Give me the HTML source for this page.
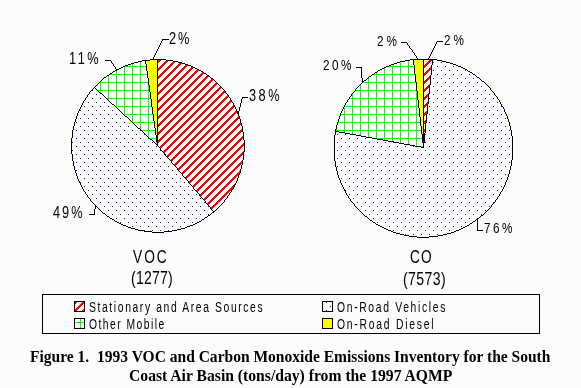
<!DOCTYPE html>
<html><head><meta charset="utf-8"><style>
html,body{margin:0;padding:0;background:#fcfcfc;width:581px;height:388px;overflow:hidden}
svg{display:block}
text{font-family:"Liberation Sans",sans-serif;fill:#000}
text.serif{font-family:"Liberation Serif",serif;font-weight:bold;white-space:pre}
</style></head><body>
<svg width="581" height="388" viewBox="0 0 581 388">
<defs><pattern id="sI" patternUnits="userSpaceOnUse" x="0" y="0" width="8" height="8"><rect width="8" height="8" fill="#fcfcfc"/><g fill="#ff0000"><rect x="0" y="0" width="1" height="1"/><rect x="1" y="0" width="1" height="1"/><rect x="2" y="0" width="1" height="1"/><rect x="0" y="1" width="1" height="1"/><rect x="1" y="1" width="1" height="1"/><rect x="7" y="1" width="1" height="1"/><rect x="0" y="2" width="1" height="1"/><rect x="6" y="2" width="1" height="1"/><rect x="7" y="2" width="1" height="1"/><rect x="5" y="3" width="1" height="1"/><rect x="6" y="3" width="1" height="1"/><rect x="7" y="3" width="1" height="1"/><rect x="4" y="4" width="1" height="1"/><rect x="5" y="4" width="1" height="1"/><rect x="6" y="4" width="1" height="1"/><rect x="3" y="5" width="1" height="1"/><rect x="4" y="5" width="1" height="1"/><rect x="5" y="5" width="1" height="1"/><rect x="2" y="6" width="1" height="1"/><rect x="3" y="6" width="1" height="1"/><rect x="4" y="6" width="1" height="1"/><rect x="1" y="7" width="1" height="1"/><rect x="2" y="7" width="1" height="1"/><rect x="3" y="7" width="1" height="1"/></g></pattern><pattern id="gI" patternUnits="userSpaceOnUse" x="0" y="0" width="8" height="8"><rect width="8" height="8" fill="#fcfcfc"/><g fill="#00ff00"><rect x="0" y="0" width="1" height="8"/><rect x="0" y="2" width="8" height="1"/></g></pattern><pattern id="dI" patternUnits="userSpaceOnUse" x="0" y="0" width="8" height="8"><rect width="8" height="8" fill="#fcfcfc"/><g fill="#0000ff"><rect x="6" y="6" width="1" height="1"/><rect x="2" y="2" width="1" height="1"/></g></pattern></defs>
<rect width="581" height="388" fill="#fcfcfc"/>
<g shape-rendering="crispEdges"><path fill="#ff0000" d="M158 60h3v1h-3zM429 60h3v1h-3zM158 61h2v1h-2zM165 61h3v1h-3zM428 61h3v1h-3zM158 62h1v1h-1zM164 62h3v1h-3zM172 62h3v1h-3zM427 62h3v1h-3zM163 63h3v1h-3zM171 63h3v1h-3zM179 63h3v1h-3zM426 63h3v1h-3zM162 64h3v1h-3zM170 64h3v1h-3zM178 64h3v1h-3zM425 64h3v1h-3zM161 65h3v1h-3zM169 65h3v1h-3zM177 65h3v1h-3zM185 65h3v1h-3zM424 65h3v1h-3zM160 66h3v1h-3zM168 66h3v1h-3zM176 66h3v1h-3zM184 66h3v1h-3zM424 66h2v1h-2zM159 67h3v1h-3zM167 67h3v1h-3zM175 67h3v1h-3zM183 67h3v1h-3zM191 67h2v1h-2zM424 67h1v1h-1zM430 67h1v1h-1zM158 68h3v1h-3zM166 68h3v1h-3zM174 68h3v1h-3zM182 68h3v1h-3zM190 68h3v1h-3zM429 68h2v1h-2zM158 69h2v1h-2zM165 69h3v1h-3zM173 69h3v1h-3zM181 69h3v1h-3zM189 69h3v1h-3zM428 69h3v1h-3zM158 70h1v1h-1zM164 70h3v1h-3zM172 70h3v1h-3zM180 70h3v1h-3zM188 70h3v1h-3zM196 70h3v1h-3zM427 70h3v1h-3zM163 71h3v1h-3zM171 71h3v1h-3zM179 71h3v1h-3zM187 71h3v1h-3zM195 71h3v1h-3zM426 71h3v1h-3zM162 72h3v1h-3zM170 72h3v1h-3zM178 72h3v1h-3zM186 72h3v1h-3zM194 72h3v1h-3zM202 72h1v1h-1zM425 72h3v1h-3zM161 73h3v1h-3zM169 73h3v1h-3zM177 73h3v1h-3zM185 73h3v1h-3zM193 73h3v1h-3zM201 73h3v1h-3zM424 73h3v1h-3zM160 74h3v1h-3zM168 74h3v1h-3zM176 74h3v1h-3zM184 74h3v1h-3zM192 74h3v1h-3zM200 74h3v1h-3zM424 74h2v1h-2zM159 75h3v1h-3zM167 75h3v1h-3zM175 75h3v1h-3zM183 75h3v1h-3zM191 75h3v1h-3zM199 75h3v1h-3zM424 75h1v1h-1zM158 76h3v1h-3zM166 76h3v1h-3zM174 76h3v1h-3zM182 76h3v1h-3zM190 76h3v1h-3zM198 76h3v1h-3zM206 76h3v1h-3zM429 76h1v1h-1zM158 77h2v1h-2zM165 77h3v1h-3zM173 77h3v1h-3zM181 77h3v1h-3zM189 77h3v1h-3zM197 77h3v1h-3zM205 77h3v1h-3zM428 77h2v1h-2zM158 78h1v1h-1zM164 78h3v1h-3zM172 78h3v1h-3zM180 78h3v1h-3zM188 78h3v1h-3zM196 78h3v1h-3zM204 78h3v1h-3zM427 78h3v1h-3zM163 79h3v1h-3zM171 79h3v1h-3zM179 79h3v1h-3zM187 79h3v1h-3zM195 79h3v1h-3zM203 79h3v1h-3zM211 79h2v1h-2zM426 79h3v1h-3zM162 80h3v1h-3zM170 80h3v1h-3zM178 80h3v1h-3zM186 80h3v1h-3zM194 80h3v1h-3zM202 80h3v1h-3zM210 80h3v1h-3zM425 80h3v1h-3zM161 81h3v1h-3zM169 81h3v1h-3zM177 81h3v1h-3zM185 81h3v1h-3zM193 81h3v1h-3zM201 81h3v1h-3zM209 81h3v1h-3zM424 81h3v1h-3zM160 82h3v1h-3zM168 82h3v1h-3zM176 82h3v1h-3zM184 82h3v1h-3zM192 82h3v1h-3zM200 82h3v1h-3zM208 82h3v1h-3zM424 82h2v1h-2zM159 83h3v1h-3zM167 83h3v1h-3zM175 83h3v1h-3zM183 83h3v1h-3zM191 83h3v1h-3zM199 83h3v1h-3zM207 83h3v1h-3zM215 83h2v1h-2zM424 83h1v1h-1zM158 84h3v1h-3zM166 84h3v1h-3zM174 84h3v1h-3zM182 84h3v1h-3zM190 84h3v1h-3zM198 84h3v1h-3zM206 84h3v1h-3zM214 84h3v1h-3zM429 84h1v1h-1zM158 85h2v1h-2zM165 85h3v1h-3zM173 85h3v1h-3zM181 85h3v1h-3zM189 85h3v1h-3zM197 85h3v1h-3zM205 85h3v1h-3zM213 85h3v1h-3zM428 85h1v1h-1zM158 86h1v1h-1zM164 86h3v1h-3zM172 86h3v1h-3zM180 86h3v1h-3zM188 86h3v1h-3zM196 86h3v1h-3zM204 86h3v1h-3zM212 86h3v1h-3zM427 86h2v1h-2zM163 87h3v1h-3zM171 87h3v1h-3zM179 87h3v1h-3zM187 87h3v1h-3zM195 87h3v1h-3zM203 87h3v1h-3zM211 87h3v1h-3zM219 87h2v1h-2zM426 87h3v1h-3zM162 88h3v1h-3zM170 88h3v1h-3zM178 88h3v1h-3zM186 88h3v1h-3zM194 88h3v1h-3zM202 88h3v1h-3zM210 88h3v1h-3zM218 88h3v1h-3zM425 88h3v1h-3zM161 89h3v1h-3zM169 89h3v1h-3zM177 89h3v1h-3zM185 89h3v1h-3zM193 89h3v1h-3zM201 89h3v1h-3zM209 89h3v1h-3zM217 89h3v1h-3zM424 89h3v1h-3zM160 90h3v1h-3zM168 90h3v1h-3zM176 90h3v1h-3zM184 90h3v1h-3zM192 90h3v1h-3zM200 90h3v1h-3zM208 90h3v1h-3zM216 90h3v1h-3zM424 90h2v1h-2zM159 91h3v1h-3zM167 91h3v1h-3zM175 91h3v1h-3zM183 91h3v1h-3zM191 91h3v1h-3zM199 91h3v1h-3zM207 91h3v1h-3zM215 91h3v1h-3zM223 91h2v1h-2zM424 91h1v1h-1zM158 92h3v1h-3zM166 92h3v1h-3zM174 92h3v1h-3zM182 92h3v1h-3zM190 92h3v1h-3zM198 92h3v1h-3zM206 92h3v1h-3zM214 92h3v1h-3zM222 92h3v1h-3zM158 93h2v1h-2zM165 93h3v1h-3zM173 93h3v1h-3zM181 93h3v1h-3zM189 93h3v1h-3zM197 93h3v1h-3zM205 93h3v1h-3zM213 93h3v1h-3zM221 93h3v1h-3zM428 93h1v1h-1zM158 94h1v1h-1zM164 94h3v1h-3zM172 94h3v1h-3zM180 94h3v1h-3zM188 94h3v1h-3zM196 94h3v1h-3zM204 94h3v1h-3zM212 94h3v1h-3zM220 94h3v1h-3zM427 94h1v1h-1zM163 95h3v1h-3zM171 95h3v1h-3zM179 95h3v1h-3zM187 95h3v1h-3zM195 95h3v1h-3zM203 95h3v1h-3zM211 95h3v1h-3zM219 95h3v1h-3zM227 95h1v1h-1zM426 95h2v1h-2zM162 96h3v1h-3zM170 96h3v1h-3zM178 96h3v1h-3zM186 96h3v1h-3zM194 96h3v1h-3zM202 96h3v1h-3zM210 96h3v1h-3zM218 96h3v1h-3zM226 96h2v1h-2zM425 96h3v1h-3zM161 97h3v1h-3zM169 97h3v1h-3zM177 97h3v1h-3zM185 97h3v1h-3zM193 97h3v1h-3zM201 97h3v1h-3zM209 97h3v1h-3zM217 97h3v1h-3zM225 97h3v1h-3zM424 97h3v1h-3zM160 98h3v1h-3zM168 98h3v1h-3zM176 98h3v1h-3zM184 98h3v1h-3zM192 98h3v1h-3zM200 98h3v1h-3zM208 98h3v1h-3zM216 98h3v1h-3zM224 98h3v1h-3zM424 98h2v1h-2zM159 99h3v1h-3zM167 99h3v1h-3zM175 99h3v1h-3zM183 99h3v1h-3zM191 99h3v1h-3zM199 99h3v1h-3zM207 99h3v1h-3zM215 99h3v1h-3zM223 99h3v1h-3zM424 99h1v1h-1zM158 100h3v1h-3zM166 100h3v1h-3zM174 100h3v1h-3zM182 100h3v1h-3zM190 100h3v1h-3zM198 100h3v1h-3zM206 100h3v1h-3zM214 100h3v1h-3zM222 100h3v1h-3zM230 100h1v1h-1zM158 101h2v1h-2zM165 101h3v1h-3zM173 101h3v1h-3zM181 101h3v1h-3zM189 101h3v1h-3zM197 101h3v1h-3zM205 101h3v1h-3zM213 101h3v1h-3zM221 101h3v1h-3zM229 101h2v1h-2zM158 102h1v1h-1zM164 102h3v1h-3zM172 102h3v1h-3zM180 102h3v1h-3zM188 102h3v1h-3zM196 102h3v1h-3zM204 102h3v1h-3zM212 102h3v1h-3zM220 102h3v1h-3zM228 102h3v1h-3zM427 102h1v1h-1zM163 103h3v1h-3zM171 103h3v1h-3zM179 103h3v1h-3zM187 103h3v1h-3zM195 103h3v1h-3zM203 103h3v1h-3zM211 103h3v1h-3zM219 103h3v1h-3zM227 103h3v1h-3zM426 103h2v1h-2zM162 104h3v1h-3zM170 104h3v1h-3zM178 104h3v1h-3zM186 104h3v1h-3zM194 104h3v1h-3zM202 104h3v1h-3zM210 104h3v1h-3zM218 104h3v1h-3zM226 104h3v1h-3zM425 104h2v1h-2zM161 105h3v1h-3zM169 105h3v1h-3zM177 105h3v1h-3zM185 105h3v1h-3zM193 105h3v1h-3zM201 105h3v1h-3zM209 105h3v1h-3zM217 105h3v1h-3zM225 105h3v1h-3zM233 105h1v1h-1zM424 105h3v1h-3zM160 106h3v1h-3zM168 106h3v1h-3zM176 106h3v1h-3zM184 106h3v1h-3zM192 106h3v1h-3zM200 106h3v1h-3zM208 106h3v1h-3zM216 106h3v1h-3zM224 106h3v1h-3zM232 106h2v1h-2zM424 106h2v1h-2zM159 107h3v1h-3zM167 107h3v1h-3zM175 107h3v1h-3zM183 107h3v1h-3zM191 107h3v1h-3zM199 107h3v1h-3zM207 107h3v1h-3zM215 107h3v1h-3zM223 107h3v1h-3zM231 107h3v1h-3zM424 107h1v1h-1zM158 108h3v1h-3zM166 108h3v1h-3zM174 108h3v1h-3zM182 108h3v1h-3zM190 108h3v1h-3zM198 108h3v1h-3zM206 108h3v1h-3zM214 108h3v1h-3zM222 108h3v1h-3zM230 108h3v1h-3zM158 109h2v1h-2zM165 109h3v1h-3zM173 109h3v1h-3zM181 109h3v1h-3zM189 109h3v1h-3zM197 109h3v1h-3zM205 109h3v1h-3zM213 109h3v1h-3zM221 109h3v1h-3zM229 109h3v1h-3zM158 110h1v1h-1zM164 110h3v1h-3zM172 110h3v1h-3zM180 110h3v1h-3zM188 110h3v1h-3zM196 110h3v1h-3zM204 110h3v1h-3zM212 110h3v1h-3zM220 110h3v1h-3zM228 110h3v1h-3zM163 111h3v1h-3zM171 111h3v1h-3zM179 111h3v1h-3zM187 111h3v1h-3zM195 111h3v1h-3zM203 111h3v1h-3zM211 111h3v1h-3zM219 111h3v1h-3zM227 111h3v1h-3zM235 111h2v1h-2zM426 111h1v1h-1zM162 112h3v1h-3zM170 112h3v1h-3zM178 112h3v1h-3zM186 112h3v1h-3zM194 112h3v1h-3zM202 112h3v1h-3zM210 112h3v1h-3zM218 112h3v1h-3zM226 112h3v1h-3zM234 112h3v1h-3zM425 112h2v1h-2zM161 113h3v1h-3zM169 113h3v1h-3zM177 113h3v1h-3zM185 113h3v1h-3zM193 113h3v1h-3zM201 113h3v1h-3zM209 113h3v1h-3zM217 113h3v1h-3zM225 113h3v1h-3zM233 113h3v1h-3zM424 113h3v1h-3zM160 114h3v1h-3zM168 114h3v1h-3zM176 114h3v1h-3zM184 114h3v1h-3zM192 114h3v1h-3zM200 114h3v1h-3zM208 114h3v1h-3zM216 114h3v1h-3zM224 114h3v1h-3zM232 114h3v1h-3zM424 114h2v1h-2zM159 115h3v1h-3zM167 115h3v1h-3zM175 115h3v1h-3zM183 115h3v1h-3zM191 115h3v1h-3zM199 115h3v1h-3zM207 115h3v1h-3zM215 115h3v1h-3zM223 115h3v1h-3zM231 115h3v1h-3zM424 115h1v1h-1zM158 116h3v1h-3zM166 116h3v1h-3zM174 116h3v1h-3zM182 116h3v1h-3zM190 116h3v1h-3zM198 116h3v1h-3zM206 116h3v1h-3zM214 116h3v1h-3zM222 116h3v1h-3zM230 116h3v1h-3zM238 116h1v1h-1zM158 117h2v1h-2zM165 117h3v1h-3zM173 117h3v1h-3zM181 117h3v1h-3zM189 117h3v1h-3zM197 117h3v1h-3zM205 117h3v1h-3zM213 117h3v1h-3zM221 117h3v1h-3zM229 117h3v1h-3zM237 117h2v1h-2zM158 118h1v1h-1zM164 118h3v1h-3zM172 118h3v1h-3zM180 118h3v1h-3zM188 118h3v1h-3zM196 118h3v1h-3zM204 118h3v1h-3zM212 118h3v1h-3zM220 118h3v1h-3zM228 118h3v1h-3zM236 118h3v1h-3zM163 119h3v1h-3zM171 119h3v1h-3zM179 119h3v1h-3zM187 119h3v1h-3zM195 119h3v1h-3zM203 119h3v1h-3zM211 119h3v1h-3zM219 119h3v1h-3zM227 119h3v1h-3zM235 119h3v1h-3zM162 120h3v1h-3zM170 120h3v1h-3zM178 120h3v1h-3zM186 120h3v1h-3zM194 120h3v1h-3zM202 120h3v1h-3zM210 120h3v1h-3zM218 120h3v1h-3zM226 120h3v1h-3zM234 120h3v1h-3zM425 120h1v1h-1zM161 121h3v1h-3zM169 121h3v1h-3zM177 121h3v1h-3zM185 121h3v1h-3zM193 121h3v1h-3zM201 121h3v1h-3zM209 121h3v1h-3zM217 121h3v1h-3zM225 121h3v1h-3zM233 121h3v1h-3zM424 121h2v1h-2zM160 122h3v1h-3zM168 122h3v1h-3zM176 122h3v1h-3zM184 122h3v1h-3zM192 122h3v1h-3zM200 122h3v1h-3zM208 122h3v1h-3zM216 122h3v1h-3zM224 122h3v1h-3zM232 122h3v1h-3zM424 122h2v1h-2zM159 123h3v1h-3zM167 123h3v1h-3zM175 123h3v1h-3zM183 123h3v1h-3zM191 123h3v1h-3zM199 123h3v1h-3zM207 123h3v1h-3zM215 123h3v1h-3zM223 123h3v1h-3zM231 123h3v1h-3zM239 123h2v1h-2zM424 123h1v1h-1zM158 124h3v1h-3zM166 124h3v1h-3zM174 124h3v1h-3zM182 124h3v1h-3zM190 124h3v1h-3zM198 124h3v1h-3zM206 124h3v1h-3zM214 124h3v1h-3zM222 124h3v1h-3zM230 124h3v1h-3zM238 124h3v1h-3zM158 125h2v1h-2zM165 125h3v1h-3zM173 125h3v1h-3zM181 125h3v1h-3zM189 125h3v1h-3zM197 125h3v1h-3zM205 125h3v1h-3zM213 125h3v1h-3zM221 125h3v1h-3zM229 125h3v1h-3zM237 125h3v1h-3zM158 126h1v1h-1zM164 126h3v1h-3zM172 126h3v1h-3zM180 126h3v1h-3zM188 126h3v1h-3zM196 126h3v1h-3zM204 126h3v1h-3zM212 126h3v1h-3zM220 126h3v1h-3zM228 126h3v1h-3zM236 126h3v1h-3zM163 127h3v1h-3zM171 127h3v1h-3zM179 127h3v1h-3zM187 127h3v1h-3zM195 127h3v1h-3zM203 127h3v1h-3zM211 127h3v1h-3zM219 127h3v1h-3zM227 127h3v1h-3zM235 127h3v1h-3zM162 128h3v1h-3zM170 128h3v1h-3zM178 128h3v1h-3zM186 128h3v1h-3zM194 128h3v1h-3zM202 128h3v1h-3zM210 128h3v1h-3zM218 128h3v1h-3zM226 128h3v1h-3zM234 128h3v1h-3zM161 129h3v1h-3zM169 129h3v1h-3zM177 129h3v1h-3zM185 129h3v1h-3zM193 129h3v1h-3zM201 129h3v1h-3zM209 129h3v1h-3zM217 129h3v1h-3zM225 129h3v1h-3zM233 129h3v1h-3zM241 129h1v1h-1zM424 129h1v1h-1zM160 130h3v1h-3zM168 130h3v1h-3zM176 130h3v1h-3zM184 130h3v1h-3zM192 130h3v1h-3zM200 130h3v1h-3zM208 130h3v1h-3zM216 130h3v1h-3zM224 130h3v1h-3zM232 130h3v1h-3zM240 130h2v1h-2zM424 130h1v1h-1zM159 131h3v1h-3zM167 131h3v1h-3zM175 131h3v1h-3zM183 131h3v1h-3zM191 131h3v1h-3zM199 131h3v1h-3zM207 131h3v1h-3zM215 131h3v1h-3zM223 131h3v1h-3zM231 131h3v1h-3zM239 131h3v1h-3zM424 131h1v1h-1zM158 132h3v1h-3zM166 132h3v1h-3zM174 132h3v1h-3zM182 132h3v1h-3zM190 132h3v1h-3zM198 132h3v1h-3zM206 132h3v1h-3zM214 132h3v1h-3zM222 132h3v1h-3zM230 132h3v1h-3zM238 132h3v1h-3zM158 133h2v1h-2zM165 133h3v1h-3zM173 133h3v1h-3zM181 133h3v1h-3zM189 133h3v1h-3zM197 133h3v1h-3zM205 133h3v1h-3zM213 133h3v1h-3zM221 133h3v1h-3zM229 133h3v1h-3zM237 133h3v1h-3zM158 134h1v1h-1zM164 134h3v1h-3zM172 134h3v1h-3zM180 134h3v1h-3zM188 134h3v1h-3zM196 134h3v1h-3zM204 134h3v1h-3zM212 134h3v1h-3zM220 134h3v1h-3zM228 134h3v1h-3zM236 134h3v1h-3zM163 135h3v1h-3zM171 135h3v1h-3zM179 135h3v1h-3zM187 135h3v1h-3zM195 135h3v1h-3zM203 135h3v1h-3zM211 135h3v1h-3zM219 135h3v1h-3zM227 135h3v1h-3zM235 135h3v1h-3zM162 136h3v1h-3zM170 136h3v1h-3zM178 136h3v1h-3zM186 136h3v1h-3zM194 136h3v1h-3zM202 136h3v1h-3zM210 136h3v1h-3zM218 136h3v1h-3zM226 136h3v1h-3zM234 136h3v1h-3zM242 136h1v1h-1zM161 137h3v1h-3zM169 137h3v1h-3zM177 137h3v1h-3zM185 137h3v1h-3zM193 137h3v1h-3zM201 137h3v1h-3zM209 137h3v1h-3zM217 137h3v1h-3zM225 137h3v1h-3zM233 137h3v1h-3zM241 137h2v1h-2zM160 138h3v1h-3zM168 138h3v1h-3zM176 138h3v1h-3zM184 138h3v1h-3zM192 138h3v1h-3zM200 138h3v1h-3zM208 138h3v1h-3zM216 138h3v1h-3zM224 138h3v1h-3zM232 138h3v1h-3zM240 138h3v1h-3zM159 139h3v1h-3zM167 139h3v1h-3zM175 139h3v1h-3zM183 139h3v1h-3zM191 139h3v1h-3zM199 139h3v1h-3zM207 139h3v1h-3zM215 139h3v1h-3zM223 139h3v1h-3zM231 139h3v1h-3zM239 139h3v1h-3zM158 140h3v1h-3zM166 140h3v1h-3zM174 140h3v1h-3zM182 140h3v1h-3zM190 140h3v1h-3zM198 140h3v1h-3zM206 140h3v1h-3zM214 140h3v1h-3zM222 140h3v1h-3zM230 140h3v1h-3zM238 140h3v1h-3zM158 141h2v1h-2zM165 141h3v1h-3zM173 141h3v1h-3zM181 141h3v1h-3zM189 141h3v1h-3zM197 141h3v1h-3zM205 141h3v1h-3zM213 141h3v1h-3zM221 141h3v1h-3zM229 141h3v1h-3zM237 141h3v1h-3zM158 142h1v1h-1zM164 142h3v1h-3zM172 142h3v1h-3zM180 142h3v1h-3zM188 142h3v1h-3zM196 142h3v1h-3zM204 142h3v1h-3zM212 142h3v1h-3zM220 142h3v1h-3zM228 142h3v1h-3zM236 142h3v1h-3zM163 143h3v1h-3zM171 143h3v1h-3zM179 143h3v1h-3zM187 143h3v1h-3zM195 143h3v1h-3zM203 143h3v1h-3zM211 143h3v1h-3zM219 143h3v1h-3zM227 143h3v1h-3zM235 143h3v1h-3zM243 143h1v1h-1zM162 144h3v1h-3zM170 144h3v1h-3zM178 144h3v1h-3zM186 144h3v1h-3zM194 144h3v1h-3zM202 144h3v1h-3zM210 144h3v1h-3zM218 144h3v1h-3zM226 144h3v1h-3zM234 144h3v1h-3zM242 144h2v1h-2zM161 145h3v1h-3zM169 145h3v1h-3zM177 145h3v1h-3zM185 145h3v1h-3zM193 145h3v1h-3zM201 145h3v1h-3zM209 145h3v1h-3zM217 145h3v1h-3zM225 145h3v1h-3zM233 145h3v1h-3zM241 145h3v1h-3zM160 146h3v1h-3zM168 146h3v1h-3zM176 146h3v1h-3zM184 146h3v1h-3zM192 146h3v1h-3zM200 146h3v1h-3zM208 146h3v1h-3zM216 146h3v1h-3zM224 146h3v1h-3zM232 146h3v1h-3zM240 146h3v1h-3zM160 147h2v1h-2zM167 147h3v1h-3zM175 147h3v1h-3zM183 147h3v1h-3zM191 147h3v1h-3zM199 147h3v1h-3zM207 147h3v1h-3zM215 147h3v1h-3zM223 147h3v1h-3zM231 147h3v1h-3zM239 147h3v1h-3zM166 148h3v1h-3zM174 148h3v1h-3zM182 148h3v1h-3zM190 148h3v1h-3zM198 148h3v1h-3zM206 148h3v1h-3zM214 148h3v1h-3zM222 148h3v1h-3zM230 148h3v1h-3zM238 148h3v1h-3zM165 149h3v1h-3zM173 149h3v1h-3zM181 149h3v1h-3zM189 149h3v1h-3zM197 149h3v1h-3zM205 149h3v1h-3zM213 149h3v1h-3zM221 149h3v1h-3zM229 149h3v1h-3zM237 149h3v1h-3zM164 150h3v1h-3zM172 150h3v1h-3zM180 150h3v1h-3zM188 150h3v1h-3zM196 150h3v1h-3zM204 150h3v1h-3zM212 150h3v1h-3zM220 150h3v1h-3zM228 150h3v1h-3zM236 150h3v1h-3zM163 151h3v1h-3zM171 151h3v1h-3zM179 151h3v1h-3zM187 151h3v1h-3zM195 151h3v1h-3zM203 151h3v1h-3zM211 151h3v1h-3zM219 151h3v1h-3zM227 151h3v1h-3zM235 151h3v1h-3zM243 151h1v1h-1zM164 152h1v1h-1zM170 152h3v1h-3zM178 152h3v1h-3zM186 152h3v1h-3zM194 152h3v1h-3zM202 152h3v1h-3zM210 152h3v1h-3zM218 152h3v1h-3zM226 152h3v1h-3zM234 152h3v1h-3zM242 152h1v1h-1zM169 153h3v1h-3zM177 153h3v1h-3zM185 153h3v1h-3zM193 153h3v1h-3zM201 153h3v1h-3zM209 153h3v1h-3zM217 153h3v1h-3zM225 153h3v1h-3zM233 153h3v1h-3zM241 153h2v1h-2zM168 154h3v1h-3zM176 154h3v1h-3zM184 154h3v1h-3zM192 154h3v1h-3zM200 154h3v1h-3zM208 154h3v1h-3zM216 154h3v1h-3zM224 154h3v1h-3zM232 154h3v1h-3zM240 154h3v1h-3zM167 155h3v1h-3zM175 155h3v1h-3zM183 155h3v1h-3zM191 155h3v1h-3zM199 155h3v1h-3zM207 155h3v1h-3zM215 155h3v1h-3zM223 155h3v1h-3zM231 155h3v1h-3zM239 155h3v1h-3zM167 156h2v1h-2zM174 156h3v1h-3zM182 156h3v1h-3zM190 156h3v1h-3zM198 156h3v1h-3zM206 156h3v1h-3zM214 156h3v1h-3zM222 156h3v1h-3zM230 156h3v1h-3zM238 156h3v1h-3zM173 157h3v1h-3zM181 157h3v1h-3zM189 157h3v1h-3zM197 157h3v1h-3zM205 157h3v1h-3zM213 157h3v1h-3zM221 157h3v1h-3zM229 157h3v1h-3zM237 157h3v1h-3zM172 158h3v1h-3zM180 158h3v1h-3zM188 158h3v1h-3zM196 158h3v1h-3zM204 158h3v1h-3zM212 158h3v1h-3zM220 158h3v1h-3zM228 158h3v1h-3zM236 158h3v1h-3zM171 159h3v1h-3zM179 159h3v1h-3zM187 159h3v1h-3zM195 159h3v1h-3zM203 159h3v1h-3zM211 159h3v1h-3zM219 159h3v1h-3zM227 159h3v1h-3zM235 159h3v1h-3zM171 160h2v1h-2zM178 160h3v1h-3zM186 160h3v1h-3zM194 160h3v1h-3zM202 160h3v1h-3zM210 160h3v1h-3zM218 160h3v1h-3zM226 160h3v1h-3zM234 160h3v1h-3zM177 161h3v1h-3zM185 161h3v1h-3zM193 161h3v1h-3zM201 161h3v1h-3zM209 161h3v1h-3zM217 161h3v1h-3zM225 161h3v1h-3zM233 161h3v1h-3zM241 161h1v1h-1zM176 162h3v1h-3zM184 162h3v1h-3zM192 162h3v1h-3zM200 162h3v1h-3zM208 162h3v1h-3zM216 162h3v1h-3zM224 162h3v1h-3zM232 162h3v1h-3zM240 162h2v1h-2zM175 163h3v1h-3zM183 163h3v1h-3zM191 163h3v1h-3zM199 163h3v1h-3zM207 163h3v1h-3zM215 163h3v1h-3zM223 163h3v1h-3zM231 163h3v1h-3zM239 163h3v1h-3zM174 164h3v1h-3zM182 164h3v1h-3zM190 164h3v1h-3zM198 164h3v1h-3zM206 164h3v1h-3zM214 164h3v1h-3zM222 164h3v1h-3zM230 164h3v1h-3zM238 164h3v1h-3zM175 165h1v1h-1zM181 165h3v1h-3zM189 165h3v1h-3zM197 165h3v1h-3zM205 165h3v1h-3zM213 165h3v1h-3zM221 165h3v1h-3zM229 165h3v1h-3zM237 165h3v1h-3zM180 166h3v1h-3zM188 166h3v1h-3zM196 166h3v1h-3zM204 166h3v1h-3zM212 166h3v1h-3zM220 166h3v1h-3zM228 166h3v1h-3zM236 166h3v1h-3zM179 167h3v1h-3zM187 167h3v1h-3zM195 167h3v1h-3zM203 167h3v1h-3zM211 167h3v1h-3zM219 167h3v1h-3zM227 167h3v1h-3zM235 167h3v1h-3zM178 168h3v1h-3zM186 168h3v1h-3zM194 168h3v1h-3zM202 168h3v1h-3zM210 168h3v1h-3zM218 168h3v1h-3zM226 168h3v1h-3zM234 168h3v1h-3zM178 169h2v1h-2zM185 169h3v1h-3zM193 169h3v1h-3zM201 169h3v1h-3zM209 169h3v1h-3zM217 169h3v1h-3zM225 169h3v1h-3zM233 169h3v1h-3zM184 170h3v1h-3zM192 170h3v1h-3zM200 170h3v1h-3zM208 170h3v1h-3zM216 170h3v1h-3zM224 170h3v1h-3zM232 170h3v1h-3zM183 171h3v1h-3zM191 171h3v1h-3zM199 171h3v1h-3zM207 171h3v1h-3zM215 171h3v1h-3zM223 171h3v1h-3zM231 171h3v1h-3zM239 171h1v1h-1zM182 172h3v1h-3zM190 172h3v1h-3zM198 172h3v1h-3zM206 172h3v1h-3zM214 172h3v1h-3zM222 172h3v1h-3zM230 172h3v1h-3zM238 172h2v1h-2zM182 173h2v1h-2zM189 173h3v1h-3zM197 173h3v1h-3zM205 173h3v1h-3zM213 173h3v1h-3zM221 173h3v1h-3zM229 173h3v1h-3zM237 173h2v1h-2zM188 174h3v1h-3zM196 174h3v1h-3zM204 174h3v1h-3zM212 174h3v1h-3zM220 174h3v1h-3zM228 174h3v1h-3zM236 174h3v1h-3zM187 175h3v1h-3zM195 175h3v1h-3zM203 175h3v1h-3zM211 175h3v1h-3zM219 175h3v1h-3zM227 175h3v1h-3zM235 175h3v1h-3zM186 176h3v1h-3zM194 176h3v1h-3zM202 176h3v1h-3zM210 176h3v1h-3zM218 176h3v1h-3zM226 176h3v1h-3zM234 176h3v1h-3zM185 177h3v1h-3zM193 177h3v1h-3zM201 177h3v1h-3zM209 177h3v1h-3zM217 177h3v1h-3zM225 177h3v1h-3zM233 177h3v1h-3zM186 178h1v1h-1zM192 178h3v1h-3zM200 178h3v1h-3zM208 178h3v1h-3zM216 178h3v1h-3zM224 178h3v1h-3zM232 178h3v1h-3zM191 179h3v1h-3zM199 179h3v1h-3zM207 179h3v1h-3zM215 179h3v1h-3zM223 179h3v1h-3zM231 179h3v1h-3zM190 180h3v1h-3zM198 180h3v1h-3zM206 180h3v1h-3zM214 180h3v1h-3zM222 180h3v1h-3zM230 180h3v1h-3zM189 181h3v1h-3zM197 181h3v1h-3zM205 181h3v1h-3zM213 181h3v1h-3zM221 181h3v1h-3zM229 181h3v1h-3zM189 182h2v1h-2zM196 182h3v1h-3zM204 182h3v1h-3zM212 182h3v1h-3zM220 182h3v1h-3zM228 182h3v1h-3zM195 183h3v1h-3zM203 183h3v1h-3zM211 183h3v1h-3zM219 183h3v1h-3zM227 183h3v1h-3zM194 184h3v1h-3zM202 184h3v1h-3zM210 184h3v1h-3zM218 184h3v1h-3zM226 184h3v1h-3zM234 184h1v1h-1zM193 185h3v1h-3zM201 185h3v1h-3zM209 185h3v1h-3zM217 185h3v1h-3zM225 185h3v1h-3zM233 185h1v1h-1zM193 186h2v1h-2zM200 186h3v1h-3zM208 186h3v1h-3zM216 186h3v1h-3zM224 186h3v1h-3zM232 186h2v1h-2zM199 187h3v1h-3zM207 187h3v1h-3zM215 187h3v1h-3zM223 187h3v1h-3zM231 187h2v1h-2zM198 188h3v1h-3zM206 188h3v1h-3zM214 188h3v1h-3zM222 188h3v1h-3zM230 188h3v1h-3zM197 189h3v1h-3zM205 189h3v1h-3zM213 189h3v1h-3zM221 189h3v1h-3zM229 189h3v1h-3zM196 190h3v1h-3zM204 190h3v1h-3zM212 190h3v1h-3zM220 190h3v1h-3zM228 190h3v1h-3zM197 191h1v1h-1zM203 191h3v1h-3zM211 191h3v1h-3zM219 191h3v1h-3zM227 191h3v1h-3zM202 192h3v1h-3zM210 192h3v1h-3zM218 192h3v1h-3zM226 192h3v1h-3zM201 193h3v1h-3zM209 193h3v1h-3zM217 193h3v1h-3zM225 193h3v1h-3zM200 194h3v1h-3zM208 194h3v1h-3zM216 194h3v1h-3zM224 194h3v1h-3zM200 195h2v1h-2zM207 195h3v1h-3zM215 195h3v1h-3zM223 195h3v1h-3zM206 196h3v1h-3zM214 196h3v1h-3zM222 196h3v1h-3zM205 197h3v1h-3zM213 197h3v1h-3zM221 197h3v1h-3zM204 198h3v1h-3zM212 198h3v1h-3zM220 198h3v1h-3zM204 199h2v1h-2zM211 199h3v1h-3zM219 199h3v1h-3zM210 200h3v1h-3zM218 200h3v1h-3zM209 201h3v1h-3zM217 201h3v1h-3zM208 202h3v1h-3zM216 202h3v1h-3zM207 203h3v1h-3zM215 203h3v1h-3zM208 204h1v1h-1zM214 204h3v1h-3zM213 205h3v1h-3zM212 206h3v1h-3zM211 207h3v1h-3zM211 208h2v1h-2z"/><path fill="#00ff00" d="M408 61h1v1h-1zM140 62h1v1h-1zM400 62h1v1h-1zM408 62h1v1h-1zM140 63h1v1h-1zM400 63h1v1h-1zM408 63h1v1h-1zM132 64h1v1h-1zM140 64h1v1h-1zM400 64h1v1h-1zM408 64h1v1h-1zM132 65h1v1h-1zM140 65h1v1h-1zM392 65h1v1h-1zM400 65h1v1h-1zM408 65h1v1h-1zM125 66h21v1h-21zM389 66h25v1h-25zM124 67h1v1h-1zM132 67h1v1h-1zM140 67h1v1h-1zM392 67h1v1h-1zM400 67h1v1h-1zM408 67h1v1h-1zM124 68h1v1h-1zM132 68h1v1h-1zM140 68h1v1h-1zM384 68h1v1h-1zM392 68h1v1h-1zM400 68h1v1h-1zM408 68h1v1h-1zM124 69h1v1h-1zM132 69h1v1h-1zM140 69h1v1h-1zM384 69h1v1h-1zM392 69h1v1h-1zM400 69h1v1h-1zM408 69h1v1h-1zM124 70h1v1h-1zM132 70h1v1h-1zM140 70h1v1h-1zM384 70h1v1h-1zM392 70h1v1h-1zM400 70h1v1h-1zM408 70h1v1h-1zM116 71h1v1h-1zM124 71h1v1h-1zM132 71h1v1h-1zM140 71h1v1h-1zM384 71h1v1h-1zM392 71h1v1h-1zM400 71h1v1h-1zM408 71h1v1h-1zM116 72h1v1h-1zM124 72h1v1h-1zM132 72h1v1h-1zM140 72h1v1h-1zM384 72h1v1h-1zM392 72h1v1h-1zM400 72h1v1h-1zM408 72h1v1h-1zM116 73h1v1h-1zM124 73h1v1h-1zM132 73h1v1h-1zM140 73h1v1h-1zM376 73h1v1h-1zM384 73h1v1h-1zM392 73h1v1h-1zM400 73h1v1h-1zM408 73h1v1h-1zM110 74h37v1h-37zM374 74h41v1h-41zM116 75h1v1h-1zM124 75h1v1h-1zM132 75h1v1h-1zM140 75h1v1h-1zM376 75h1v1h-1zM384 75h1v1h-1zM392 75h1v1h-1zM400 75h1v1h-1zM408 75h1v1h-1zM108 76h1v1h-1zM116 76h1v1h-1zM124 76h1v1h-1zM132 76h1v1h-1zM140 76h1v1h-1zM376 76h1v1h-1zM384 76h1v1h-1zM392 76h1v1h-1zM400 76h1v1h-1zM408 76h1v1h-1zM108 77h1v1h-1zM116 77h1v1h-1zM124 77h1v1h-1zM132 77h1v1h-1zM140 77h1v1h-1zM376 77h1v1h-1zM384 77h1v1h-1zM392 77h1v1h-1zM400 77h1v1h-1zM408 77h1v1h-1zM108 78h1v1h-1zM116 78h1v1h-1zM124 78h1v1h-1zM132 78h1v1h-1zM140 78h1v1h-1zM368 78h1v1h-1zM376 78h1v1h-1zM384 78h1v1h-1zM392 78h1v1h-1zM400 78h1v1h-1zM408 78h1v1h-1zM108 79h1v1h-1zM116 79h1v1h-1zM124 79h1v1h-1zM132 79h1v1h-1zM140 79h1v1h-1zM368 79h1v1h-1zM376 79h1v1h-1zM384 79h1v1h-1zM392 79h1v1h-1zM400 79h1v1h-1zM408 79h1v1h-1zM108 80h1v1h-1zM116 80h1v1h-1zM124 80h1v1h-1zM132 80h1v1h-1zM140 80h1v1h-1zM368 80h1v1h-1zM376 80h1v1h-1zM384 80h1v1h-1zM392 80h1v1h-1zM400 80h1v1h-1zM408 80h1v1h-1zM108 81h1v1h-1zM116 81h1v1h-1zM124 81h1v1h-1zM132 81h1v1h-1zM140 81h1v1h-1zM368 81h1v1h-1zM376 81h1v1h-1zM384 81h1v1h-1zM392 81h1v1h-1zM400 81h1v1h-1zM408 81h1v1h-1zM100 82h48v1h-48zM363 82h53v1h-53zM100 83h1v1h-1zM108 83h1v1h-1zM116 83h1v1h-1zM124 83h1v1h-1zM132 83h1v1h-1zM140 83h1v1h-1zM368 83h1v1h-1zM376 83h1v1h-1zM384 83h1v1h-1zM392 83h1v1h-1zM400 83h1v1h-1zM408 83h1v1h-1zM100 84h1v1h-1zM108 84h1v1h-1zM116 84h1v1h-1zM124 84h1v1h-1zM132 84h1v1h-1zM140 84h1v1h-1zM368 84h1v1h-1zM376 84h1v1h-1zM384 84h1v1h-1zM392 84h1v1h-1zM400 84h1v1h-1zM408 84h1v1h-1zM100 85h1v1h-1zM108 85h1v1h-1zM116 85h1v1h-1zM124 85h1v1h-1zM132 85h1v1h-1zM140 85h1v1h-1zM148 85h1v1h-1zM360 85h1v1h-1zM368 85h1v1h-1zM376 85h1v1h-1zM384 85h1v1h-1zM392 85h1v1h-1zM400 85h1v1h-1zM408 85h1v1h-1zM100 86h1v1h-1zM108 86h1v1h-1zM116 86h1v1h-1zM124 86h1v1h-1zM132 86h1v1h-1zM140 86h1v1h-1zM148 86h1v1h-1zM360 86h1v1h-1zM368 86h1v1h-1zM376 86h1v1h-1zM384 86h1v1h-1zM392 86h1v1h-1zM400 86h1v1h-1zM408 86h1v1h-1zM100 87h1v1h-1zM108 87h1v1h-1zM116 87h1v1h-1zM124 87h1v1h-1zM132 87h1v1h-1zM140 87h1v1h-1zM148 87h1v1h-1zM360 87h1v1h-1zM368 87h1v1h-1zM376 87h1v1h-1zM384 87h1v1h-1zM392 87h1v1h-1zM400 87h1v1h-1zM408 87h1v1h-1zM100 88h1v1h-1zM108 88h1v1h-1zM116 88h1v1h-1zM124 88h1v1h-1zM132 88h1v1h-1zM140 88h1v1h-1zM148 88h1v1h-1zM360 88h1v1h-1zM368 88h1v1h-1zM376 88h1v1h-1zM384 88h1v1h-1zM392 88h1v1h-1zM400 88h1v1h-1zM408 88h1v1h-1zM100 89h1v1h-1zM108 89h1v1h-1zM116 89h1v1h-1zM124 89h1v1h-1zM132 89h1v1h-1zM140 89h1v1h-1zM148 89h1v1h-1zM360 89h1v1h-1zM368 89h1v1h-1zM376 89h1v1h-1zM384 89h1v1h-1zM392 89h1v1h-1zM400 89h1v1h-1zM408 89h1v1h-1zM98 90h51v1h-51zM356 90h60v1h-60zM100 91h1v1h-1zM108 91h1v1h-1zM116 91h1v1h-1zM124 91h1v1h-1zM132 91h1v1h-1zM140 91h1v1h-1zM148 91h1v1h-1zM360 91h1v1h-1zM368 91h1v1h-1zM376 91h1v1h-1zM384 91h1v1h-1zM392 91h1v1h-1zM400 91h1v1h-1zM408 91h1v1h-1zM416 91h1v1h-1zM100 92h1v1h-1zM108 92h1v1h-1zM116 92h1v1h-1zM124 92h1v1h-1zM132 92h1v1h-1zM140 92h1v1h-1zM148 92h1v1h-1zM360 92h1v1h-1zM368 92h1v1h-1zM376 92h1v1h-1zM384 92h1v1h-1zM392 92h1v1h-1zM400 92h1v1h-1zM408 92h1v1h-1zM416 92h1v1h-1zM108 93h1v1h-1zM116 93h1v1h-1zM124 93h1v1h-1zM132 93h1v1h-1zM140 93h1v1h-1zM148 93h1v1h-1zM360 93h1v1h-1zM368 93h1v1h-1zM376 93h1v1h-1zM384 93h1v1h-1zM392 93h1v1h-1zM400 93h1v1h-1zM408 93h1v1h-1zM416 93h1v1h-1zM108 94h1v1h-1zM116 94h1v1h-1zM124 94h1v1h-1zM132 94h1v1h-1zM140 94h1v1h-1zM148 94h1v1h-1zM352 94h1v1h-1zM360 94h1v1h-1zM368 94h1v1h-1zM376 94h1v1h-1zM384 94h1v1h-1zM392 94h1v1h-1zM400 94h1v1h-1zM408 94h1v1h-1zM416 94h1v1h-1zM108 95h1v1h-1zM116 95h1v1h-1zM124 95h1v1h-1zM132 95h1v1h-1zM140 95h1v1h-1zM148 95h1v1h-1zM352 95h1v1h-1zM360 95h1v1h-1zM368 95h1v1h-1zM376 95h1v1h-1zM384 95h1v1h-1zM392 95h1v1h-1zM400 95h1v1h-1zM408 95h1v1h-1zM416 95h1v1h-1zM108 96h1v1h-1zM116 96h1v1h-1zM124 96h1v1h-1zM132 96h1v1h-1zM140 96h1v1h-1zM148 96h1v1h-1zM352 96h1v1h-1zM360 96h1v1h-1zM368 96h1v1h-1zM376 96h1v1h-1zM384 96h1v1h-1zM392 96h1v1h-1zM400 96h1v1h-1zM408 96h1v1h-1zM416 96h1v1h-1zM108 97h1v1h-1zM116 97h1v1h-1zM124 97h1v1h-1zM132 97h1v1h-1zM140 97h1v1h-1zM148 97h1v1h-1zM352 97h1v1h-1zM360 97h1v1h-1zM368 97h1v1h-1zM376 97h1v1h-1zM384 97h1v1h-1zM392 97h1v1h-1zM400 97h1v1h-1zM408 97h1v1h-1zM416 97h1v1h-1zM107 98h43v1h-43zM350 98h67v1h-67zM108 99h1v1h-1zM116 99h1v1h-1zM124 99h1v1h-1zM132 99h1v1h-1zM140 99h1v1h-1zM148 99h1v1h-1zM352 99h1v1h-1zM360 99h1v1h-1zM368 99h1v1h-1zM376 99h1v1h-1zM384 99h1v1h-1zM392 99h1v1h-1zM400 99h1v1h-1zM408 99h1v1h-1zM416 99h1v1h-1zM116 100h1v1h-1zM124 100h1v1h-1zM132 100h1v1h-1zM140 100h1v1h-1zM148 100h1v1h-1zM352 100h1v1h-1zM360 100h1v1h-1zM368 100h1v1h-1zM376 100h1v1h-1zM384 100h1v1h-1zM392 100h1v1h-1zM400 100h1v1h-1zM408 100h1v1h-1zM416 100h1v1h-1zM116 101h1v1h-1zM124 101h1v1h-1zM132 101h1v1h-1zM140 101h1v1h-1zM148 101h1v1h-1zM352 101h1v1h-1zM360 101h1v1h-1zM368 101h1v1h-1zM376 101h1v1h-1zM384 101h1v1h-1zM392 101h1v1h-1zM400 101h1v1h-1zM408 101h1v1h-1zM416 101h1v1h-1zM116 102h1v1h-1zM124 102h1v1h-1zM132 102h1v1h-1zM140 102h1v1h-1zM148 102h1v1h-1zM352 102h1v1h-1zM360 102h1v1h-1zM368 102h1v1h-1zM376 102h1v1h-1zM384 102h1v1h-1zM392 102h1v1h-1zM400 102h1v1h-1zM408 102h1v1h-1zM416 102h1v1h-1zM116 103h1v1h-1zM124 103h1v1h-1zM132 103h1v1h-1zM140 103h1v1h-1zM148 103h1v1h-1zM352 103h1v1h-1zM360 103h1v1h-1zM368 103h1v1h-1zM376 103h1v1h-1zM384 103h1v1h-1zM392 103h1v1h-1zM400 103h1v1h-1zM408 103h1v1h-1zM416 103h1v1h-1zM116 104h1v1h-1zM124 104h1v1h-1zM132 104h1v1h-1zM140 104h1v1h-1zM148 104h1v1h-1zM352 104h1v1h-1zM360 104h1v1h-1zM368 104h1v1h-1zM376 104h1v1h-1zM384 104h1v1h-1zM392 104h1v1h-1zM400 104h1v1h-1zM408 104h1v1h-1zM416 104h1v1h-1zM116 105h1v1h-1zM124 105h1v1h-1zM132 105h1v1h-1zM140 105h1v1h-1zM148 105h1v1h-1zM352 105h1v1h-1zM360 105h1v1h-1zM368 105h1v1h-1zM376 105h1v1h-1zM384 105h1v1h-1zM392 105h1v1h-1zM400 105h1v1h-1zM408 105h1v1h-1zM416 105h1v1h-1zM116 106h35v1h-35zM345 106h73v1h-73zM124 107h1v1h-1zM132 107h1v1h-1zM140 107h1v1h-1zM148 107h1v1h-1zM344 107h1v1h-1zM352 107h1v1h-1zM360 107h1v1h-1zM368 107h1v1h-1zM376 107h1v1h-1zM384 107h1v1h-1zM392 107h1v1h-1zM400 107h1v1h-1zM408 107h1v1h-1zM416 107h1v1h-1zM124 108h1v1h-1zM132 108h1v1h-1zM140 108h1v1h-1zM148 108h1v1h-1zM344 108h1v1h-1zM352 108h1v1h-1zM360 108h1v1h-1zM368 108h1v1h-1zM376 108h1v1h-1zM384 108h1v1h-1zM392 108h1v1h-1zM400 108h1v1h-1zM408 108h1v1h-1zM416 108h1v1h-1zM124 109h1v1h-1zM132 109h1v1h-1zM140 109h1v1h-1zM148 109h1v1h-1zM344 109h1v1h-1zM352 109h1v1h-1zM360 109h1v1h-1zM368 109h1v1h-1zM376 109h1v1h-1zM384 109h1v1h-1zM392 109h1v1h-1zM400 109h1v1h-1zM408 109h1v1h-1zM416 109h1v1h-1zM124 110h1v1h-1zM132 110h1v1h-1zM140 110h1v1h-1zM148 110h1v1h-1zM344 110h1v1h-1zM352 110h1v1h-1zM360 110h1v1h-1zM368 110h1v1h-1zM376 110h1v1h-1zM384 110h1v1h-1zM392 110h1v1h-1zM400 110h1v1h-1zM408 110h1v1h-1zM416 110h1v1h-1zM124 111h1v1h-1zM132 111h1v1h-1zM140 111h1v1h-1zM148 111h1v1h-1zM344 111h1v1h-1zM352 111h1v1h-1zM360 111h1v1h-1zM368 111h1v1h-1zM376 111h1v1h-1zM384 111h1v1h-1zM392 111h1v1h-1zM400 111h1v1h-1zM408 111h1v1h-1zM416 111h1v1h-1zM124 112h1v1h-1zM132 112h1v1h-1zM140 112h1v1h-1zM148 112h1v1h-1zM344 112h1v1h-1zM352 112h1v1h-1zM360 112h1v1h-1zM368 112h1v1h-1zM376 112h1v1h-1zM384 112h1v1h-1zM392 112h1v1h-1zM400 112h1v1h-1zM408 112h1v1h-1zM416 112h1v1h-1zM124 113h1v1h-1zM132 113h1v1h-1zM140 113h1v1h-1zM148 113h1v1h-1zM344 113h1v1h-1zM352 113h1v1h-1zM360 113h1v1h-1zM368 113h1v1h-1zM376 113h1v1h-1zM384 113h1v1h-1zM392 113h1v1h-1zM400 113h1v1h-1zM408 113h1v1h-1zM416 113h1v1h-1zM124 114h29v1h-29zM341 114h78v1h-78zM132 115h1v1h-1zM140 115h1v1h-1zM148 115h1v1h-1zM344 115h1v1h-1zM352 115h1v1h-1zM360 115h1v1h-1zM368 115h1v1h-1zM376 115h1v1h-1zM384 115h1v1h-1zM392 115h1v1h-1zM400 115h1v1h-1zM408 115h1v1h-1zM416 115h1v1h-1zM132 116h1v1h-1zM140 116h1v1h-1zM148 116h1v1h-1zM344 116h1v1h-1zM352 116h1v1h-1zM360 116h1v1h-1zM368 116h1v1h-1zM376 116h1v1h-1zM384 116h1v1h-1zM392 116h1v1h-1zM400 116h1v1h-1zM408 116h1v1h-1zM416 116h1v1h-1zM132 117h1v1h-1zM140 117h1v1h-1zM148 117h1v1h-1zM344 117h1v1h-1zM352 117h1v1h-1zM360 117h1v1h-1zM368 117h1v1h-1zM376 117h1v1h-1zM384 117h1v1h-1zM392 117h1v1h-1zM400 117h1v1h-1zM408 117h1v1h-1zM416 117h1v1h-1zM132 118h1v1h-1zM140 118h1v1h-1zM148 118h1v1h-1zM344 118h1v1h-1zM352 118h1v1h-1zM360 118h1v1h-1zM368 118h1v1h-1zM376 118h1v1h-1zM384 118h1v1h-1zM392 118h1v1h-1zM400 118h1v1h-1zM408 118h1v1h-1zM416 118h1v1h-1zM132 119h1v1h-1zM140 119h1v1h-1zM148 119h1v1h-1zM344 119h1v1h-1zM352 119h1v1h-1zM360 119h1v1h-1zM368 119h1v1h-1zM376 119h1v1h-1zM384 119h1v1h-1zM392 119h1v1h-1zM400 119h1v1h-1zM408 119h1v1h-1zM416 119h1v1h-1zM132 120h1v1h-1zM140 120h1v1h-1zM148 120h1v1h-1zM344 120h1v1h-1zM352 120h1v1h-1zM360 120h1v1h-1zM368 120h1v1h-1zM376 120h1v1h-1zM384 120h1v1h-1zM392 120h1v1h-1zM400 120h1v1h-1zM408 120h1v1h-1zM416 120h1v1h-1zM132 121h1v1h-1zM140 121h1v1h-1zM148 121h1v1h-1zM344 121h1v1h-1zM352 121h1v1h-1zM360 121h1v1h-1zM368 121h1v1h-1zM376 121h1v1h-1zM384 121h1v1h-1zM392 121h1v1h-1zM400 121h1v1h-1zM408 121h1v1h-1zM416 121h1v1h-1zM133 122h21v1h-21zM338 122h82v1h-82zM140 123h1v1h-1zM148 123h1v1h-1zM344 123h1v1h-1zM352 123h1v1h-1zM360 123h1v1h-1zM368 123h1v1h-1zM376 123h1v1h-1zM384 123h1v1h-1zM392 123h1v1h-1zM400 123h1v1h-1zM408 123h1v1h-1zM416 123h1v1h-1zM140 124h1v1h-1zM148 124h1v1h-1zM344 124h1v1h-1zM352 124h1v1h-1zM360 124h1v1h-1zM368 124h1v1h-1zM376 124h1v1h-1zM384 124h1v1h-1zM392 124h1v1h-1zM400 124h1v1h-1zM408 124h1v1h-1zM416 124h1v1h-1zM140 125h1v1h-1zM148 125h1v1h-1zM344 125h1v1h-1zM352 125h1v1h-1zM360 125h1v1h-1zM368 125h1v1h-1zM376 125h1v1h-1zM384 125h1v1h-1zM392 125h1v1h-1zM400 125h1v1h-1zM408 125h1v1h-1zM416 125h1v1h-1zM140 126h1v1h-1zM148 126h1v1h-1zM344 126h1v1h-1zM352 126h1v1h-1zM360 126h1v1h-1zM368 126h1v1h-1zM376 126h1v1h-1zM384 126h1v1h-1zM392 126h1v1h-1zM400 126h1v1h-1zM408 126h1v1h-1zM416 126h1v1h-1zM140 127h1v1h-1zM148 127h1v1h-1zM344 127h1v1h-1zM352 127h1v1h-1zM360 127h1v1h-1zM368 127h1v1h-1zM376 127h1v1h-1zM384 127h1v1h-1zM392 127h1v1h-1zM400 127h1v1h-1zM408 127h1v1h-1zM416 127h1v1h-1zM140 128h1v1h-1zM148 128h1v1h-1zM344 128h1v1h-1zM352 128h1v1h-1zM360 128h1v1h-1zM368 128h1v1h-1zM376 128h1v1h-1zM384 128h1v1h-1zM392 128h1v1h-1zM400 128h1v1h-1zM408 128h1v1h-1zM416 128h1v1h-1zM148 129h1v1h-1zM336 129h1v1h-1zM344 129h1v1h-1zM352 129h1v1h-1zM360 129h1v1h-1zM368 129h1v1h-1zM376 129h1v1h-1zM384 129h1v1h-1zM392 129h1v1h-1zM400 129h1v1h-1zM408 129h1v1h-1zM416 129h1v1h-1zM142 130h13v1h-13zM336 130h85v1h-85zM148 131h1v1h-1zM344 131h1v1h-1zM352 131h1v1h-1zM360 131h1v1h-1zM368 131h1v1h-1zM376 131h1v1h-1zM384 131h1v1h-1zM392 131h1v1h-1zM400 131h1v1h-1zM408 131h1v1h-1zM416 131h1v1h-1zM148 132h1v1h-1zM352 132h1v1h-1zM360 132h1v1h-1zM368 132h1v1h-1zM376 132h1v1h-1zM384 132h1v1h-1zM392 132h1v1h-1zM400 132h1v1h-1zM408 132h1v1h-1zM416 132h1v1h-1zM148 133h1v1h-1zM352 133h1v1h-1zM360 133h1v1h-1zM368 133h1v1h-1zM376 133h1v1h-1zM384 133h1v1h-1zM392 133h1v1h-1zM400 133h1v1h-1zM408 133h1v1h-1zM416 133h1v1h-1zM148 134h1v1h-1zM360 134h1v1h-1zM368 134h1v1h-1zM376 134h1v1h-1zM384 134h1v1h-1zM392 134h1v1h-1zM400 134h1v1h-1zM408 134h1v1h-1zM416 134h1v1h-1zM148 135h1v1h-1zM368 135h1v1h-1zM376 135h1v1h-1zM384 135h1v1h-1zM392 135h1v1h-1zM400 135h1v1h-1zM408 135h1v1h-1zM416 135h1v1h-1zM148 136h1v1h-1zM368 136h1v1h-1zM376 136h1v1h-1zM384 136h1v1h-1zM392 136h1v1h-1zM400 136h1v1h-1zM408 136h1v1h-1zM416 136h1v1h-1zM376 137h1v1h-1zM384 137h1v1h-1zM392 137h1v1h-1zM400 137h1v1h-1zM408 137h1v1h-1zM416 137h1v1h-1zM150 138h6v1h-6zM377 138h45v1h-45zM384 139h1v1h-1zM392 139h1v1h-1zM400 139h1v1h-1zM408 139h1v1h-1zM416 139h1v1h-1zM392 140h1v1h-1zM400 140h1v1h-1zM408 140h1v1h-1zM416 140h1v1h-1zM400 141h1v1h-1zM408 141h1v1h-1zM416 141h1v1h-1zM156 142h1v1h-1zM400 142h1v1h-1zM408 142h1v1h-1zM416 142h1v1h-1zM156 143h1v1h-1zM408 143h1v1h-1zM416 143h1v1h-1zM416 144h1v1h-1zM416 145h1v1h-1zM421 146h2v1h-2z"/><path fill="#0000ff" d="M433 62h1v1h-1zM441 62h1v1h-1zM437 66h1v1h-1zM445 66h1v1h-1zM453 66h1v1h-1zM433 70h1v1h-1zM441 70h1v1h-1zM449 70h1v1h-1zM457 70h1v1h-1zM465 70h1v1h-1zM437 74h1v1h-1zM445 74h1v1h-1zM453 74h1v1h-1zM461 74h1v1h-1zM469 74h1v1h-1zM433 78h1v1h-1zM441 78h1v1h-1zM449 78h1v1h-1zM457 78h1v1h-1zM465 78h1v1h-1zM473 78h1v1h-1zM437 82h1v1h-1zM445 82h1v1h-1zM453 82h1v1h-1zM461 82h1v1h-1zM469 82h1v1h-1zM477 82h1v1h-1zM433 86h1v1h-1zM441 86h1v1h-1zM449 86h1v1h-1zM457 86h1v1h-1zM465 86h1v1h-1zM473 86h1v1h-1zM481 86h1v1h-1zM92 90h1v1h-1zM437 90h1v1h-1zM445 90h1v1h-1zM453 90h1v1h-1zM461 90h1v1h-1zM469 90h1v1h-1zM477 90h1v1h-1zM485 90h1v1h-1zM96 94h1v1h-1zM433 94h1v1h-1zM441 94h1v1h-1zM449 94h1v1h-1zM457 94h1v1h-1zM465 94h1v1h-1zM473 94h1v1h-1zM481 94h1v1h-1zM489 94h1v1h-1zM92 98h1v1h-1zM100 98h1v1h-1zM429 98h1v1h-1zM437 98h1v1h-1zM445 98h1v1h-1zM453 98h1v1h-1zM461 98h1v1h-1zM469 98h1v1h-1zM477 98h1v1h-1zM485 98h1v1h-1zM493 98h1v1h-1zM88 102h1v1h-1zM96 102h1v1h-1zM104 102h1v1h-1zM433 102h1v1h-1zM441 102h1v1h-1zM449 102h1v1h-1zM457 102h1v1h-1zM465 102h1v1h-1zM473 102h1v1h-1zM481 102h1v1h-1zM489 102h1v1h-1zM497 102h1v1h-1zM84 106h1v1h-1zM92 106h1v1h-1zM100 106h1v1h-1zM108 106h1v1h-1zM429 106h1v1h-1zM437 106h1v1h-1zM445 106h1v1h-1zM453 106h1v1h-1zM461 106h1v1h-1zM469 106h1v1h-1zM477 106h1v1h-1zM485 106h1v1h-1zM493 106h1v1h-1zM501 106h1v1h-1zM80 110h1v1h-1zM88 110h1v1h-1zM96 110h1v1h-1zM104 110h1v1h-1zM112 110h1v1h-1zM433 110h1v1h-1zM441 110h1v1h-1zM449 110h1v1h-1zM457 110h1v1h-1zM465 110h1v1h-1zM473 110h1v1h-1zM481 110h1v1h-1zM489 110h1v1h-1zM497 110h1v1h-1zM84 114h1v1h-1zM92 114h1v1h-1zM100 114h1v1h-1zM108 114h1v1h-1zM116 114h1v1h-1zM429 114h1v1h-1zM437 114h1v1h-1zM445 114h1v1h-1zM453 114h1v1h-1zM461 114h1v1h-1zM469 114h1v1h-1zM477 114h1v1h-1zM485 114h1v1h-1zM493 114h1v1h-1zM501 114h1v1h-1zM80 118h1v1h-1zM88 118h1v1h-1zM96 118h1v1h-1zM104 118h1v1h-1zM112 118h1v1h-1zM120 118h1v1h-1zM433 118h1v1h-1zM441 118h1v1h-1zM449 118h1v1h-1zM457 118h1v1h-1zM465 118h1v1h-1zM473 118h1v1h-1zM481 118h1v1h-1zM489 118h1v1h-1zM497 118h1v1h-1zM505 118h1v1h-1zM76 122h1v1h-1zM84 122h1v1h-1zM92 122h1v1h-1zM100 122h1v1h-1zM108 122h1v1h-1zM116 122h1v1h-1zM124 122h1v1h-1zM429 122h1v1h-1zM437 122h1v1h-1zM445 122h1v1h-1zM453 122h1v1h-1zM461 122h1v1h-1zM469 122h1v1h-1zM477 122h1v1h-1zM485 122h1v1h-1zM493 122h1v1h-1zM501 122h1v1h-1zM80 126h1v1h-1zM88 126h1v1h-1zM96 126h1v1h-1zM104 126h1v1h-1zM112 126h1v1h-1zM120 126h1v1h-1zM128 126h1v1h-1zM433 126h1v1h-1zM441 126h1v1h-1zM449 126h1v1h-1zM457 126h1v1h-1zM465 126h1v1h-1zM473 126h1v1h-1zM481 126h1v1h-1zM489 126h1v1h-1zM497 126h1v1h-1zM505 126h1v1h-1zM76 130h1v1h-1zM84 130h1v1h-1zM92 130h1v1h-1zM100 130h1v1h-1zM108 130h1v1h-1zM116 130h1v1h-1zM124 130h1v1h-1zM132 130h1v1h-1zM140 130h1v1h-1zM429 130h1v1h-1zM437 130h1v1h-1zM445 130h1v1h-1zM453 130h1v1h-1zM461 130h1v1h-1zM469 130h1v1h-1zM477 130h1v1h-1zM485 130h1v1h-1zM493 130h1v1h-1zM501 130h1v1h-1zM509 130h1v1h-1zM80 134h1v1h-1zM88 134h1v1h-1zM96 134h1v1h-1zM104 134h1v1h-1zM112 134h1v1h-1zM120 134h1v1h-1zM128 134h1v1h-1zM136 134h1v1h-1zM144 134h1v1h-1zM337 134h1v1h-1zM345 134h1v1h-1zM425 134h1v1h-1zM433 134h1v1h-1zM441 134h1v1h-1zM449 134h1v1h-1zM457 134h1v1h-1zM465 134h1v1h-1zM473 134h1v1h-1zM481 134h1v1h-1zM489 134h1v1h-1zM497 134h1v1h-1zM505 134h1v1h-1zM76 138h1v1h-1zM84 138h1v1h-1zM92 138h1v1h-1zM100 138h1v1h-1zM108 138h1v1h-1zM116 138h1v1h-1zM124 138h1v1h-1zM132 138h1v1h-1zM140 138h1v1h-1zM148 138h1v1h-1zM341 138h1v1h-1zM349 138h1v1h-1zM357 138h1v1h-1zM365 138h1v1h-1zM429 138h1v1h-1zM437 138h1v1h-1zM445 138h1v1h-1zM453 138h1v1h-1zM461 138h1v1h-1zM469 138h1v1h-1zM477 138h1v1h-1zM485 138h1v1h-1zM493 138h1v1h-1zM501 138h1v1h-1zM509 138h1v1h-1zM72 142h1v1h-1zM80 142h1v1h-1zM88 142h1v1h-1zM96 142h1v1h-1zM104 142h1v1h-1zM112 142h1v1h-1zM120 142h1v1h-1zM128 142h1v1h-1zM136 142h1v1h-1zM144 142h1v1h-1zM152 142h1v1h-1zM337 142h1v1h-1zM345 142h1v1h-1zM353 142h1v1h-1zM361 142h1v1h-1zM369 142h1v1h-1zM377 142h1v1h-1zM385 142h1v1h-1zM393 142h1v1h-1zM425 142h1v1h-1zM433 142h1v1h-1zM441 142h1v1h-1zM449 142h1v1h-1zM457 142h1v1h-1zM465 142h1v1h-1zM473 142h1v1h-1zM481 142h1v1h-1zM489 142h1v1h-1zM497 142h1v1h-1zM505 142h1v1h-1zM76 146h1v1h-1zM84 146h1v1h-1zM92 146h1v1h-1zM100 146h1v1h-1zM108 146h1v1h-1zM116 146h1v1h-1zM124 146h1v1h-1zM132 146h1v1h-1zM140 146h1v1h-1zM148 146h1v1h-1zM156 146h1v1h-1zM341 146h1v1h-1zM349 146h1v1h-1zM357 146h1v1h-1zM365 146h1v1h-1zM373 146h1v1h-1zM381 146h1v1h-1zM389 146h1v1h-1zM397 146h1v1h-1zM405 146h1v1h-1zM413 146h1v1h-1zM429 146h1v1h-1zM437 146h1v1h-1zM445 146h1v1h-1zM453 146h1v1h-1zM461 146h1v1h-1zM469 146h1v1h-1zM477 146h1v1h-1zM485 146h1v1h-1zM493 146h1v1h-1zM501 146h1v1h-1zM509 146h1v1h-1zM72 150h1v1h-1zM80 150h1v1h-1zM88 150h1v1h-1zM96 150h1v1h-1zM104 150h1v1h-1zM112 150h1v1h-1zM120 150h1v1h-1zM128 150h1v1h-1zM136 150h1v1h-1zM144 150h1v1h-1zM152 150h1v1h-1zM160 150h1v1h-1zM337 150h1v1h-1zM345 150h1v1h-1zM353 150h1v1h-1zM361 150h1v1h-1zM369 150h1v1h-1zM377 150h1v1h-1zM385 150h1v1h-1zM393 150h1v1h-1zM401 150h1v1h-1zM409 150h1v1h-1zM417 150h1v1h-1zM425 150h1v1h-1zM433 150h1v1h-1zM441 150h1v1h-1zM449 150h1v1h-1zM457 150h1v1h-1zM465 150h1v1h-1zM473 150h1v1h-1zM481 150h1v1h-1zM489 150h1v1h-1zM497 150h1v1h-1zM505 150h1v1h-1zM76 154h1v1h-1zM84 154h1v1h-1zM92 154h1v1h-1zM100 154h1v1h-1zM108 154h1v1h-1zM116 154h1v1h-1zM124 154h1v1h-1zM132 154h1v1h-1zM140 154h1v1h-1zM148 154h1v1h-1zM156 154h1v1h-1zM164 154h1v1h-1zM341 154h1v1h-1zM349 154h1v1h-1zM357 154h1v1h-1zM365 154h1v1h-1zM373 154h1v1h-1zM381 154h1v1h-1zM389 154h1v1h-1zM397 154h1v1h-1zM405 154h1v1h-1zM413 154h1v1h-1zM421 154h1v1h-1zM429 154h1v1h-1zM437 154h1v1h-1zM445 154h1v1h-1zM453 154h1v1h-1zM461 154h1v1h-1zM469 154h1v1h-1zM477 154h1v1h-1zM485 154h1v1h-1zM493 154h1v1h-1zM501 154h1v1h-1zM509 154h1v1h-1zM80 158h1v1h-1zM88 158h1v1h-1zM96 158h1v1h-1zM104 158h1v1h-1zM112 158h1v1h-1zM120 158h1v1h-1zM128 158h1v1h-1zM136 158h1v1h-1zM144 158h1v1h-1zM152 158h1v1h-1zM160 158h1v1h-1zM337 158h1v1h-1zM345 158h1v1h-1zM353 158h1v1h-1zM361 158h1v1h-1zM369 158h1v1h-1zM377 158h1v1h-1zM385 158h1v1h-1zM393 158h1v1h-1zM401 158h1v1h-1zM409 158h1v1h-1zM417 158h1v1h-1zM425 158h1v1h-1zM433 158h1v1h-1zM441 158h1v1h-1zM449 158h1v1h-1zM457 158h1v1h-1zM465 158h1v1h-1zM473 158h1v1h-1zM481 158h1v1h-1zM489 158h1v1h-1zM497 158h1v1h-1zM505 158h1v1h-1zM76 162h1v1h-1zM84 162h1v1h-1zM92 162h1v1h-1zM100 162h1v1h-1zM108 162h1v1h-1zM116 162h1v1h-1zM124 162h1v1h-1zM132 162h1v1h-1zM140 162h1v1h-1zM148 162h1v1h-1zM156 162h1v1h-1zM164 162h1v1h-1zM341 162h1v1h-1zM349 162h1v1h-1zM357 162h1v1h-1zM365 162h1v1h-1zM373 162h1v1h-1zM381 162h1v1h-1zM389 162h1v1h-1zM397 162h1v1h-1zM405 162h1v1h-1zM413 162h1v1h-1zM421 162h1v1h-1zM429 162h1v1h-1zM437 162h1v1h-1zM445 162h1v1h-1zM453 162h1v1h-1zM461 162h1v1h-1zM469 162h1v1h-1zM477 162h1v1h-1zM485 162h1v1h-1zM493 162h1v1h-1zM501 162h1v1h-1zM509 162h1v1h-1zM80 166h1v1h-1zM88 166h1v1h-1zM96 166h1v1h-1zM104 166h1v1h-1zM112 166h1v1h-1zM120 166h1v1h-1zM128 166h1v1h-1zM136 166h1v1h-1zM144 166h1v1h-1zM152 166h1v1h-1zM160 166h1v1h-1zM168 166h1v1h-1zM337 166h1v1h-1zM345 166h1v1h-1zM353 166h1v1h-1zM361 166h1v1h-1zM369 166h1v1h-1zM377 166h1v1h-1zM385 166h1v1h-1zM393 166h1v1h-1zM401 166h1v1h-1zM409 166h1v1h-1zM417 166h1v1h-1zM425 166h1v1h-1zM433 166h1v1h-1zM441 166h1v1h-1zM449 166h1v1h-1zM457 166h1v1h-1zM465 166h1v1h-1zM473 166h1v1h-1zM481 166h1v1h-1zM489 166h1v1h-1zM497 166h1v1h-1zM505 166h1v1h-1zM76 170h1v1h-1zM84 170h1v1h-1zM92 170h1v1h-1zM100 170h1v1h-1zM108 170h1v1h-1zM116 170h1v1h-1zM124 170h1v1h-1zM132 170h1v1h-1zM140 170h1v1h-1zM148 170h1v1h-1zM156 170h1v1h-1zM164 170h1v1h-1zM172 170h1v1h-1zM341 170h1v1h-1zM349 170h1v1h-1zM357 170h1v1h-1zM365 170h1v1h-1zM373 170h1v1h-1zM381 170h1v1h-1zM389 170h1v1h-1zM397 170h1v1h-1zM405 170h1v1h-1zM413 170h1v1h-1zM421 170h1v1h-1zM429 170h1v1h-1zM437 170h1v1h-1zM445 170h1v1h-1zM453 170h1v1h-1zM461 170h1v1h-1zM469 170h1v1h-1zM477 170h1v1h-1zM485 170h1v1h-1zM493 170h1v1h-1zM501 170h1v1h-1zM80 174h1v1h-1zM88 174h1v1h-1zM96 174h1v1h-1zM104 174h1v1h-1zM112 174h1v1h-1zM120 174h1v1h-1zM128 174h1v1h-1zM136 174h1v1h-1zM144 174h1v1h-1zM152 174h1v1h-1zM160 174h1v1h-1zM168 174h1v1h-1zM176 174h1v1h-1zM345 174h1v1h-1zM353 174h1v1h-1zM361 174h1v1h-1zM369 174h1v1h-1zM377 174h1v1h-1zM385 174h1v1h-1zM393 174h1v1h-1zM401 174h1v1h-1zM409 174h1v1h-1zM417 174h1v1h-1zM425 174h1v1h-1zM433 174h1v1h-1zM441 174h1v1h-1zM449 174h1v1h-1zM457 174h1v1h-1zM465 174h1v1h-1zM473 174h1v1h-1zM481 174h1v1h-1zM489 174h1v1h-1zM497 174h1v1h-1zM505 174h1v1h-1zM84 178h1v1h-1zM92 178h1v1h-1zM100 178h1v1h-1zM108 178h1v1h-1zM116 178h1v1h-1zM124 178h1v1h-1zM132 178h1v1h-1zM140 178h1v1h-1zM148 178h1v1h-1zM156 178h1v1h-1zM164 178h1v1h-1zM172 178h1v1h-1zM180 178h1v1h-1zM341 178h1v1h-1zM349 178h1v1h-1zM357 178h1v1h-1zM365 178h1v1h-1zM373 178h1v1h-1zM381 178h1v1h-1zM389 178h1v1h-1zM397 178h1v1h-1zM405 178h1v1h-1zM413 178h1v1h-1zM421 178h1v1h-1zM429 178h1v1h-1zM437 178h1v1h-1zM445 178h1v1h-1zM453 178h1v1h-1zM461 178h1v1h-1zM469 178h1v1h-1zM477 178h1v1h-1zM485 178h1v1h-1zM493 178h1v1h-1zM501 178h1v1h-1zM80 182h1v1h-1zM88 182h1v1h-1zM96 182h1v1h-1zM104 182h1v1h-1zM112 182h1v1h-1zM120 182h1v1h-1zM128 182h1v1h-1zM136 182h1v1h-1zM144 182h1v1h-1zM152 182h1v1h-1zM160 182h1v1h-1zM168 182h1v1h-1zM176 182h1v1h-1zM184 182h1v1h-1zM345 182h1v1h-1zM353 182h1v1h-1zM361 182h1v1h-1zM369 182h1v1h-1zM377 182h1v1h-1zM385 182h1v1h-1zM393 182h1v1h-1zM401 182h1v1h-1zM409 182h1v1h-1zM417 182h1v1h-1zM425 182h1v1h-1zM433 182h1v1h-1zM441 182h1v1h-1zM449 182h1v1h-1zM457 182h1v1h-1zM465 182h1v1h-1zM473 182h1v1h-1zM481 182h1v1h-1zM489 182h1v1h-1zM497 182h1v1h-1zM84 186h1v1h-1zM92 186h1v1h-1zM100 186h1v1h-1zM108 186h1v1h-1zM116 186h1v1h-1zM124 186h1v1h-1zM132 186h1v1h-1zM140 186h1v1h-1zM148 186h1v1h-1zM156 186h1v1h-1zM164 186h1v1h-1zM172 186h1v1h-1zM180 186h1v1h-1zM188 186h1v1h-1zM349 186h1v1h-1zM357 186h1v1h-1zM365 186h1v1h-1zM373 186h1v1h-1zM381 186h1v1h-1zM389 186h1v1h-1zM397 186h1v1h-1zM405 186h1v1h-1zM413 186h1v1h-1zM421 186h1v1h-1zM429 186h1v1h-1zM437 186h1v1h-1zM445 186h1v1h-1zM453 186h1v1h-1zM461 186h1v1h-1zM469 186h1v1h-1zM477 186h1v1h-1zM485 186h1v1h-1zM493 186h1v1h-1zM501 186h1v1h-1zM88 190h1v1h-1zM96 190h1v1h-1zM104 190h1v1h-1zM112 190h1v1h-1zM120 190h1v1h-1zM128 190h1v1h-1zM136 190h1v1h-1zM144 190h1v1h-1zM152 190h1v1h-1zM160 190h1v1h-1zM168 190h1v1h-1zM176 190h1v1h-1zM184 190h1v1h-1zM192 190h1v1h-1zM345 190h1v1h-1zM353 190h1v1h-1zM361 190h1v1h-1zM369 190h1v1h-1zM377 190h1v1h-1zM385 190h1v1h-1zM393 190h1v1h-1zM401 190h1v1h-1zM409 190h1v1h-1zM417 190h1v1h-1zM425 190h1v1h-1zM433 190h1v1h-1zM441 190h1v1h-1zM449 190h1v1h-1zM457 190h1v1h-1zM465 190h1v1h-1zM473 190h1v1h-1zM481 190h1v1h-1zM489 190h1v1h-1zM497 190h1v1h-1zM92 194h1v1h-1zM100 194h1v1h-1zM108 194h1v1h-1zM116 194h1v1h-1zM124 194h1v1h-1zM132 194h1v1h-1zM140 194h1v1h-1zM148 194h1v1h-1zM156 194h1v1h-1zM164 194h1v1h-1zM172 194h1v1h-1zM180 194h1v1h-1zM188 194h1v1h-1zM196 194h1v1h-1zM349 194h1v1h-1zM357 194h1v1h-1zM365 194h1v1h-1zM373 194h1v1h-1zM381 194h1v1h-1zM389 194h1v1h-1zM397 194h1v1h-1zM405 194h1v1h-1zM413 194h1v1h-1zM421 194h1v1h-1zM429 194h1v1h-1zM437 194h1v1h-1zM445 194h1v1h-1zM453 194h1v1h-1zM461 194h1v1h-1zM469 194h1v1h-1zM477 194h1v1h-1zM485 194h1v1h-1zM493 194h1v1h-1zM96 198h1v1h-1zM104 198h1v1h-1zM112 198h1v1h-1zM120 198h1v1h-1zM128 198h1v1h-1zM136 198h1v1h-1zM144 198h1v1h-1zM152 198h1v1h-1zM160 198h1v1h-1zM168 198h1v1h-1zM176 198h1v1h-1zM184 198h1v1h-1zM192 198h1v1h-1zM200 198h1v1h-1zM353 198h1v1h-1zM361 198h1v1h-1zM369 198h1v1h-1zM377 198h1v1h-1zM385 198h1v1h-1zM393 198h1v1h-1zM401 198h1v1h-1zM409 198h1v1h-1zM417 198h1v1h-1zM425 198h1v1h-1zM433 198h1v1h-1zM441 198h1v1h-1zM449 198h1v1h-1zM457 198h1v1h-1zM465 198h1v1h-1zM473 198h1v1h-1zM481 198h1v1h-1zM489 198h1v1h-1zM100 202h1v1h-1zM108 202h1v1h-1zM116 202h1v1h-1zM124 202h1v1h-1zM132 202h1v1h-1zM140 202h1v1h-1zM148 202h1v1h-1zM156 202h1v1h-1zM164 202h1v1h-1zM172 202h1v1h-1zM180 202h1v1h-1zM188 202h1v1h-1zM196 202h1v1h-1zM204 202h1v1h-1zM357 202h1v1h-1zM365 202h1v1h-1zM373 202h1v1h-1zM381 202h1v1h-1zM389 202h1v1h-1zM397 202h1v1h-1zM405 202h1v1h-1zM413 202h1v1h-1zM421 202h1v1h-1zM429 202h1v1h-1zM437 202h1v1h-1zM445 202h1v1h-1zM453 202h1v1h-1zM461 202h1v1h-1zM469 202h1v1h-1zM477 202h1v1h-1zM485 202h1v1h-1zM493 202h1v1h-1zM104 206h1v1h-1zM112 206h1v1h-1zM120 206h1v1h-1zM128 206h1v1h-1zM136 206h1v1h-1zM144 206h1v1h-1zM152 206h1v1h-1zM160 206h1v1h-1zM168 206h1v1h-1zM176 206h1v1h-1zM184 206h1v1h-1zM192 206h1v1h-1zM200 206h1v1h-1zM208 206h1v1h-1zM361 206h1v1h-1zM369 206h1v1h-1zM377 206h1v1h-1zM385 206h1v1h-1zM393 206h1v1h-1zM401 206h1v1h-1zM409 206h1v1h-1zM417 206h1v1h-1zM425 206h1v1h-1zM433 206h1v1h-1zM441 206h1v1h-1zM449 206h1v1h-1zM457 206h1v1h-1zM465 206h1v1h-1zM473 206h1v1h-1zM481 206h1v1h-1zM489 206h1v1h-1zM108 210h1v1h-1zM116 210h1v1h-1zM124 210h1v1h-1zM132 210h1v1h-1zM140 210h1v1h-1zM148 210h1v1h-1zM156 210h1v1h-1zM164 210h1v1h-1zM172 210h1v1h-1zM180 210h1v1h-1zM188 210h1v1h-1zM196 210h1v1h-1zM204 210h1v1h-1zM365 210h1v1h-1zM373 210h1v1h-1zM381 210h1v1h-1zM389 210h1v1h-1zM397 210h1v1h-1zM405 210h1v1h-1zM413 210h1v1h-1zM421 210h1v1h-1zM429 210h1v1h-1zM437 210h1v1h-1zM445 210h1v1h-1zM453 210h1v1h-1zM461 210h1v1h-1zM469 210h1v1h-1zM477 210h1v1h-1zM485 210h1v1h-1zM112 214h1v1h-1zM120 214h1v1h-1zM128 214h1v1h-1zM136 214h1v1h-1zM144 214h1v1h-1zM152 214h1v1h-1zM160 214h1v1h-1zM168 214h1v1h-1zM176 214h1v1h-1zM184 214h1v1h-1zM192 214h1v1h-1zM200 214h1v1h-1zM208 214h1v1h-1zM369 214h1v1h-1zM377 214h1v1h-1zM385 214h1v1h-1zM393 214h1v1h-1zM401 214h1v1h-1zM409 214h1v1h-1zM417 214h1v1h-1zM425 214h1v1h-1zM433 214h1v1h-1zM441 214h1v1h-1zM449 214h1v1h-1zM457 214h1v1h-1zM465 214h1v1h-1zM473 214h1v1h-1zM481 214h1v1h-1zM116 218h1v1h-1zM124 218h1v1h-1zM132 218h1v1h-1zM140 218h1v1h-1zM148 218h1v1h-1zM156 218h1v1h-1zM164 218h1v1h-1zM172 218h1v1h-1zM180 218h1v1h-1zM188 218h1v1h-1zM196 218h1v1h-1zM373 218h1v1h-1zM381 218h1v1h-1zM389 218h1v1h-1zM397 218h1v1h-1zM405 218h1v1h-1zM413 218h1v1h-1zM421 218h1v1h-1zM429 218h1v1h-1zM437 218h1v1h-1zM445 218h1v1h-1zM453 218h1v1h-1zM461 218h1v1h-1zM469 218h1v1h-1zM477 218h1v1h-1zM120 222h1v1h-1zM128 222h1v1h-1zM136 222h1v1h-1zM144 222h1v1h-1zM152 222h1v1h-1zM160 222h1v1h-1zM168 222h1v1h-1zM176 222h1v1h-1zM184 222h1v1h-1zM192 222h1v1h-1zM377 222h1v1h-1zM385 222h1v1h-1zM393 222h1v1h-1zM401 222h1v1h-1zM409 222h1v1h-1zM417 222h1v1h-1zM425 222h1v1h-1zM433 222h1v1h-1zM441 222h1v1h-1zM449 222h1v1h-1zM457 222h1v1h-1zM465 222h1v1h-1zM132 226h1v1h-1zM140 226h1v1h-1zM148 226h1v1h-1zM156 226h1v1h-1zM164 226h1v1h-1zM172 226h1v1h-1zM180 226h1v1h-1zM389 226h1v1h-1zM397 226h1v1h-1zM405 226h1v1h-1zM413 226h1v1h-1zM421 226h1v1h-1zM429 226h1v1h-1zM437 226h1v1h-1zM445 226h1v1h-1zM453 226h1v1h-1zM461 226h1v1h-1zM144 230h1v1h-1zM152 230h1v1h-1zM160 230h1v1h-1zM168 230h1v1h-1zM393 230h1v1h-1zM401 230h1v1h-1zM409 230h1v1h-1zM417 230h1v1h-1zM425 230h1v1h-1zM433 230h1v1h-1zM441 230h1v1h-1zM449 230h1v1h-1zM405 234h1v1h-1zM413 234h1v1h-1zM421 234h1v1h-1zM429 234h1v1h-1zM437 234h1v1h-1z"/><path fill="#ffff00" d="M150 60h7v1h-7zM414 60h9v1h-9zM146 61h11v1h-11zM414 61h9v1h-9zM146 62h11v1h-11zM414 62h9v1h-9zM146 63h11v1h-11zM414 63h9v1h-9zM147 64h10v1h-10zM414 64h9v1h-9zM147 65h10v1h-10zM415 65h8v1h-8zM147 66h10v1h-10zM415 66h8v1h-8zM147 67h10v1h-10zM415 67h8v1h-8zM147 68h10v1h-10zM415 68h8v1h-8zM147 69h10v1h-10zM415 69h8v1h-8zM147 70h10v1h-10zM415 70h8v1h-8zM148 71h9v1h-9zM415 71h8v1h-8zM148 72h9v1h-9zM415 72h8v1h-8zM148 73h9v1h-9zM415 73h8v1h-8zM148 74h9v1h-9zM416 74h7v1h-7zM148 75h9v1h-9zM416 75h7v1h-7zM148 76h9v1h-9zM416 76h7v1h-7zM148 77h9v1h-9zM416 77h7v1h-7zM149 78h8v1h-8zM416 78h7v1h-7zM149 79h8v1h-8zM416 79h7v1h-7zM149 80h8v1h-8zM416 80h7v1h-7zM149 81h8v1h-8zM416 81h7v1h-7zM149 82h8v1h-8zM417 82h6v1h-6zM149 83h8v1h-8zM417 83h6v1h-6zM149 84h8v1h-8zM417 84h6v1h-6zM150 85h7v1h-7zM417 85h6v1h-6zM150 86h7v1h-7zM417 86h6v1h-6zM150 87h7v1h-7zM417 87h6v1h-6zM150 88h7v1h-7zM417 88h6v1h-6zM150 89h7v1h-7zM417 89h6v1h-6zM150 90h7v1h-7zM417 90h6v1h-6zM150 91h7v1h-7zM418 91h5v1h-5zM151 92h6v1h-6zM418 92h5v1h-5zM151 93h6v1h-6zM418 93h5v1h-5zM151 94h6v1h-6zM418 94h5v1h-5zM151 95h6v1h-6zM418 95h5v1h-5zM151 96h6v1h-6zM418 96h5v1h-5zM151 97h6v1h-6zM418 97h5v1h-5zM151 98h6v1h-6zM418 98h5v1h-5zM152 99h5v1h-5zM418 99h5v1h-5zM152 100h5v1h-5zM419 100h4v1h-4zM152 101h5v1h-5zM419 101h4v1h-4zM152 102h5v1h-5zM419 102h4v1h-4zM152 103h5v1h-5zM419 103h4v1h-4zM152 104h5v1h-5zM419 104h4v1h-4zM152 105h5v1h-5zM419 105h4v1h-4zM152 106h5v1h-5zM419 106h4v1h-4zM153 107h4v1h-4zM419 107h4v1h-4zM153 108h4v1h-4zM420 108h3v1h-3zM153 109h4v1h-4zM420 109h3v1h-3zM153 110h4v1h-4zM420 110h3v1h-3zM153 111h4v1h-4zM420 111h3v1h-3zM153 112h4v1h-4zM420 112h3v1h-3zM153 113h4v1h-4zM420 113h3v1h-3zM154 114h3v1h-3zM420 114h3v1h-3zM154 115h3v1h-3zM420 115h3v1h-3zM154 116h3v1h-3zM420 116h3v1h-3zM154 117h3v1h-3zM421 117h2v1h-2zM154 118h3v1h-3zM421 118h2v1h-2zM154 119h3v1h-3zM421 119h2v1h-2zM154 120h3v1h-3zM421 120h2v1h-2zM155 121h2v1h-2zM421 121h2v1h-2zM155 122h2v1h-2zM421 122h2v1h-2zM155 123h2v1h-2zM421 123h2v1h-2zM155 124h2v1h-2zM421 124h2v1h-2zM155 125h2v1h-2zM421 125h2v1h-2zM155 126h2v1h-2zM422 126h1v1h-1zM155 127h2v1h-2zM422 127h1v1h-1zM156 128h1v1h-1zM422 128h1v1h-1zM156 129h1v1h-1zM422 129h1v1h-1zM156 130h1v1h-1zM422 130h1v1h-1zM156 131h1v1h-1zM422 131h1v1h-1zM156 132h1v1h-1zM422 132h1v1h-1zM156 133h1v1h-1zM422 133h1v1h-1zM156 134h1v1h-1z"/><path fill="#000" d="M162 39h7v1h-7zM162 40h1v1h-1zM161 41h1v1h-1zM437 41h6v1h-6zM161 42h1v1h-1zM401 42h6v1h-6zM436 42h1v1h-1zM160 43h1v1h-1zM407 43h1v1h-1zM436 43h1v1h-1zM160 44h1v1h-1zM407 44h1v1h-1zM435 44h1v1h-1zM159 45h1v1h-1zM408 45h1v1h-1zM435 45h1v1h-1zM159 46h1v1h-1zM409 46h1v1h-1zM434 46h1v1h-1zM158 47h1v1h-1zM409 47h1v1h-1zM434 47h1v1h-1zM158 48h1v1h-1zM410 48h1v1h-1zM433 48h1v1h-1zM157 49h1v1h-1zM411 49h1v1h-1zM433 49h1v1h-1zM157 50h1v1h-1zM412 50h1v1h-1zM432 50h1v1h-1zM156 51h1v1h-1zM412 51h1v1h-1zM432 51h1v1h-1zM156 52h1v1h-1zM413 52h1v1h-1zM431 52h1v1h-1zM155 53h1v1h-1zM414 53h1v1h-1zM431 53h1v1h-1zM155 54h1v1h-1zM414 54h1v1h-1zM430 54h1v1h-1zM154 55h1v1h-1zM415 55h1v1h-1zM430 55h1v1h-1zM154 56h1v1h-1zM416 56h1v1h-1zM429 56h1v1h-1zM153 57h1v1h-1zM416 57h1v1h-1zM429 57h1v1h-1zM153 58h1v1h-1zM417 58h1v1h-1zM428 58h1v1h-1zM150 59h16v1h-16zM410 59h27v1h-27zM105 60h6v1h-6zM142 60h8v1h-8zM157 60h1v1h-1zM166 60h7v1h-7zM405 60h5v1h-5zM413 60h1v1h-1zM423 60h1v1h-1zM432 60h1v1h-1zM437 60h5v1h-5zM111 61h1v1h-1zM138 61h4v1h-4zM145 61h1v1h-1zM157 61h1v1h-1zM173 61h5v1h-5zM400 61h5v1h-5zM413 61h1v1h-1zM423 61h1v1h-1zM432 61h1v1h-1zM442 61h4v1h-4zM111 62h1v1h-1zM134 62h4v1h-4zM145 62h1v1h-1zM157 62h1v1h-1zM178 62h4v1h-4zM397 62h3v1h-3zM413 62h1v1h-1zM423 62h1v1h-1zM432 62h1v1h-1zM446 62h4v1h-4zM112 63h1v1h-1zM131 63h3v1h-3zM145 63h1v1h-1zM157 63h1v1h-1zM182 63h3v1h-3zM394 63h3v1h-3zM413 63h1v1h-1zM423 63h1v1h-1zM432 63h1v1h-1zM450 63h3v1h-3zM113 64h1v1h-1zM128 64h3v1h-3zM146 64h1v1h-1zM157 64h1v1h-1zM185 64h3v1h-3zM391 64h3v1h-3zM413 64h1v1h-1zM423 64h1v1h-1zM432 64h1v1h-1zM453 64h3v1h-3zM113 65h1v1h-1zM125 65h3v1h-3zM146 65h1v1h-1zM157 65h1v1h-1zM188 65h3v1h-3zM389 65h2v1h-2zM414 65h1v1h-1zM423 65h1v1h-1zM431 65h1v1h-1zM456 65h2v1h-2zM114 66h1v1h-1zM123 66h2v1h-2zM146 66h1v1h-1zM157 66h1v1h-1zM191 66h2v1h-2zM386 66h3v1h-3zM414 66h1v1h-1zM423 66h1v1h-1zM431 66h1v1h-1zM458 66h3v1h-3zM115 67h1v1h-1zM121 67h2v1h-2zM146 67h1v1h-1zM157 67h1v1h-1zM193 67h2v1h-2zM356 67h6v1h-6zM384 67h2v1h-2zM414 67h1v1h-1zM423 67h1v1h-1zM431 67h1v1h-1zM461 67h2v1h-2zM115 68h1v1h-1zM119 68h2v1h-2zM146 68h1v1h-1zM157 68h1v1h-1zM195 68h2v1h-2zM361 68h1v1h-1zM382 68h2v1h-2zM414 68h1v1h-1zM423 68h1v1h-1zM431 68h1v1h-1zM463 68h2v1h-2zM116 69h3v1h-3zM146 69h1v1h-1zM157 69h1v1h-1zM197 69h2v1h-2zM361 69h1v1h-1zM380 69h2v1h-2zM414 69h1v1h-1zM423 69h1v1h-1zM431 69h1v1h-1zM465 69h2v1h-2zM115 70h2v1h-2zM146 70h1v1h-1zM157 70h1v1h-1zM199 70h2v1h-2zM361 70h1v1h-1zM378 70h2v1h-2zM414 70h1v1h-1zM423 70h1v1h-1zM431 70h1v1h-1zM467 70h1v1h-1zM113 71h2v1h-2zM147 71h1v1h-1zM157 71h1v1h-1zM201 71h2v1h-2zM361 71h1v1h-1zM377 71h1v1h-1zM414 71h1v1h-1zM423 71h1v1h-1zM431 71h1v1h-1zM468 71h2v1h-2zM112 72h1v1h-1zM147 72h1v1h-1zM157 72h1v1h-1zM203 72h1v1h-1zM361 72h1v1h-1zM375 72h2v1h-2zM414 72h1v1h-1zM423 72h1v1h-1zM431 72h1v1h-1zM470 72h2v1h-2zM110 73h2v1h-2zM147 73h1v1h-1zM157 73h1v1h-1zM204 73h2v1h-2zM361 73h1v1h-1zM374 73h1v1h-1zM414 73h1v1h-1zM423 73h1v1h-1zM431 73h1v1h-1zM472 73h1v1h-1zM109 74h1v1h-1zM147 74h1v1h-1zM157 74h1v1h-1zM206 74h1v1h-1zM361 74h1v1h-1zM372 74h2v1h-2zM415 74h1v1h-1zM423 74h1v1h-1zM431 74h1v1h-1zM473 74h2v1h-2zM107 75h2v1h-2zM147 75h1v1h-1zM157 75h1v1h-1zM207 75h2v1h-2zM361 75h1v1h-1zM371 75h1v1h-1zM415 75h1v1h-1zM423 75h1v1h-1zM430 75h1v1h-1zM475 75h1v1h-1zM106 76h1v1h-1zM147 76h1v1h-1zM157 76h1v1h-1zM209 76h1v1h-1zM361 76h1v1h-1zM369 76h2v1h-2zM415 76h1v1h-1zM423 76h1v1h-1zM430 76h1v1h-1zM476 76h1v1h-1zM104 77h2v1h-2zM147 77h1v1h-1zM157 77h1v1h-1zM210 77h1v1h-1zM361 77h1v1h-1zM368 77h1v1h-1zM415 77h1v1h-1zM423 77h1v1h-1zM430 77h1v1h-1zM477 77h2v1h-2zM103 78h1v1h-1zM148 78h1v1h-1zM157 78h1v1h-1zM211 78h2v1h-2zM362 78h1v1h-1zM367 78h1v1h-1zM415 78h1v1h-1zM423 78h1v1h-1zM430 78h1v1h-1zM479 78h1v1h-1zM102 79h1v1h-1zM148 79h1v1h-1zM157 79h1v1h-1zM213 79h1v1h-1zM362 79h1v1h-1zM366 79h1v1h-1zM415 79h1v1h-1zM423 79h1v1h-1zM430 79h1v1h-1zM480 79h1v1h-1zM101 80h1v1h-1zM148 80h1v1h-1zM157 80h1v1h-1zM214 80h1v1h-1zM362 80h1v1h-1zM364 80h2v1h-2zM415 80h1v1h-1zM423 80h1v1h-1zM430 80h1v1h-1zM481 80h1v1h-1zM100 81h1v1h-1zM148 81h1v1h-1zM157 81h1v1h-1zM215 81h1v1h-1zM362 81h2v1h-2zM415 81h1v1h-1zM423 81h1v1h-1zM430 81h1v1h-1zM482 81h2v1h-2zM99 82h1v1h-1zM148 82h1v1h-1zM157 82h1v1h-1zM216 82h1v1h-1zM362 82h1v1h-1zM416 82h1v1h-1zM423 82h1v1h-1zM430 82h1v1h-1zM484 82h1v1h-1zM98 83h1v1h-1zM148 83h1v1h-1zM157 83h1v1h-1zM217 83h1v1h-1zM361 83h1v1h-1zM416 83h1v1h-1zM423 83h1v1h-1zM430 83h1v1h-1zM485 83h1v1h-1zM97 84h1v1h-1zM148 84h1v1h-1zM157 84h1v1h-1zM218 84h1v1h-1zM360 84h1v1h-1zM416 84h1v1h-1zM423 84h1v1h-1zM430 84h1v1h-1zM486 84h1v1h-1zM96 85h1v1h-1zM149 85h1v1h-1zM157 85h1v1h-1zM219 85h1v1h-1zM359 85h1v1h-1zM416 85h1v1h-1zM423 85h1v1h-1zM429 85h1v1h-1zM487 85h1v1h-1zM95 86h1v1h-1zM149 86h1v1h-1zM157 86h1v1h-1zM220 86h1v1h-1zM358 86h1v1h-1zM416 86h1v1h-1zM423 86h1v1h-1zM429 86h1v1h-1zM488 86h1v1h-1zM94 87h1v1h-1zM149 87h1v1h-1zM157 87h1v1h-1zM221 87h1v1h-1zM357 87h1v1h-1zM416 87h1v1h-1zM423 87h1v1h-1zM429 87h1v1h-1zM489 87h1v1h-1zM93 88h1v1h-1zM95 88h1v1h-1zM149 88h1v1h-1zM157 88h1v1h-1zM222 88h1v1h-1zM356 88h1v1h-1zM416 88h1v1h-1zM423 88h1v1h-1zM429 88h1v1h-1zM490 88h1v1h-1zM92 89h1v1h-1zM96 89h1v1h-1zM149 89h1v1h-1zM157 89h1v1h-1zM223 89h1v1h-1zM355 89h1v1h-1zM416 89h1v1h-1zM423 89h1v1h-1zM429 89h1v1h-1zM490 89h1v1h-1zM91 90h1v1h-1zM97 90h1v1h-1zM149 90h1v1h-1zM157 90h1v1h-1zM224 90h1v1h-1zM355 90h1v1h-1zM416 90h1v1h-1zM423 90h1v1h-1zM429 90h1v1h-1zM491 90h1v1h-1zM90 91h1v1h-1zM98 91h1v1h-1zM149 91h1v1h-1zM157 91h1v1h-1zM225 91h1v1h-1zM354 91h1v1h-1zM417 91h1v1h-1zM423 91h1v1h-1zM429 91h1v1h-1zM492 91h1v1h-1zM89 92h1v1h-1zM99 92h1v1h-1zM150 92h1v1h-1zM157 92h1v1h-1zM225 92h1v1h-1zM353 92h1v1h-1zM417 92h1v1h-1zM423 92h1v1h-1zM429 92h1v1h-1zM493 92h1v1h-1zM89 93h1v1h-1zM100 93h2v1h-2zM150 93h1v1h-1zM157 93h1v1h-1zM226 93h1v1h-1zM352 93h1v1h-1zM417 93h1v1h-1zM423 93h1v1h-1zM429 93h1v1h-1zM494 93h1v1h-1zM88 94h1v1h-1zM102 94h1v1h-1zM150 94h1v1h-1zM157 94h1v1h-1zM227 94h1v1h-1zM351 94h1v1h-1zM417 94h1v1h-1zM423 94h1v1h-1zM428 94h1v1h-1zM494 94h1v1h-1zM87 95h1v1h-1zM103 95h1v1h-1zM150 95h1v1h-1zM157 95h1v1h-1zM228 95h1v1h-1zM351 95h1v1h-1zM417 95h1v1h-1zM423 95h1v1h-1zM428 95h1v1h-1zM495 95h1v1h-1zM87 96h1v1h-1zM104 96h1v1h-1zM150 96h1v1h-1zM157 96h1v1h-1zM228 96h1v1h-1zM350 96h1v1h-1zM417 96h1v1h-1zM423 96h1v1h-1zM428 96h1v1h-1zM496 96h1v1h-1zM86 97h1v1h-1zM105 97h1v1h-1zM150 97h1v1h-1zM157 97h1v1h-1zM229 97h1v1h-1zM242 97h6v1h-6zM349 97h1v1h-1zM417 97h1v1h-1zM423 97h1v1h-1zM428 97h1v1h-1zM497 97h1v1h-1zM85 98h1v1h-1zM106 98h1v1h-1zM150 98h1v1h-1zM157 98h1v1h-1zM230 98h1v1h-1zM242 98h1v1h-1zM349 98h1v1h-1zM417 98h1v1h-1zM423 98h1v1h-1zM428 98h1v1h-1zM497 98h1v1h-1zM85 99h1v1h-1zM107 99h1v1h-1zM151 99h1v1h-1zM157 99h1v1h-1zM230 99h1v1h-1zM241 99h1v1h-1zM348 99h1v1h-1zM417 99h1v1h-1zM423 99h1v1h-1zM428 99h1v1h-1zM498 99h1v1h-1zM84 100h1v1h-1zM108 100h1v1h-1zM151 100h1v1h-1zM157 100h1v1h-1zM231 100h1v1h-1zM241 100h1v1h-1zM347 100h1v1h-1zM418 100h1v1h-1zM423 100h1v1h-1zM428 100h1v1h-1zM499 100h1v1h-1zM83 101h1v1h-1zM109 101h1v1h-1zM151 101h1v1h-1zM157 101h1v1h-1zM231 101h1v1h-1zM241 101h1v1h-1zM347 101h1v1h-1zM418 101h1v1h-1zM423 101h1v1h-1zM428 101h1v1h-1zM499 101h1v1h-1zM83 102h1v1h-1zM110 102h1v1h-1zM151 102h1v1h-1zM157 102h1v1h-1zM232 102h1v1h-1zM241 102h1v1h-1zM346 102h1v1h-1zM418 102h1v1h-1zM423 102h1v1h-1zM428 102h1v1h-1zM500 102h1v1h-1zM82 103h1v1h-1zM111 103h1v1h-1zM151 103h1v1h-1zM157 103h1v1h-1zM233 103h1v1h-1zM240 103h1v1h-1zM345 103h1v1h-1zM418 103h1v1h-1zM423 103h1v1h-1zM428 103h1v1h-1zM500 103h1v1h-1zM82 104h1v1h-1zM112 104h2v1h-2zM151 104h1v1h-1zM157 104h1v1h-1zM233 104h1v1h-1zM240 104h1v1h-1zM345 104h1v1h-1zM418 104h1v1h-1zM423 104h1v1h-1zM427 104h1v1h-1zM501 104h1v1h-1zM81 105h1v1h-1zM114 105h1v1h-1zM151 105h1v1h-1zM157 105h1v1h-1zM234 105h1v1h-1zM240 105h1v1h-1zM344 105h1v1h-1zM418 105h1v1h-1zM423 105h1v1h-1zM427 105h1v1h-1zM501 105h1v1h-1zM81 106h1v1h-1zM115 106h1v1h-1zM151 106h1v1h-1zM157 106h1v1h-1zM234 106h1v1h-1zM240 106h1v1h-1zM344 106h1v1h-1zM418 106h1v1h-1zM423 106h1v1h-1zM427 106h1v1h-1zM502 106h1v1h-1zM80 107h1v1h-1zM116 107h1v1h-1zM152 107h1v1h-1zM157 107h1v1h-1zM235 107h1v1h-1zM239 107h1v1h-1zM343 107h1v1h-1zM418 107h1v1h-1zM423 107h1v1h-1zM427 107h1v1h-1zM503 107h1v1h-1zM80 108h1v1h-1zM117 108h1v1h-1zM152 108h1v1h-1zM157 108h1v1h-1zM235 108h1v1h-1zM239 108h1v1h-1zM343 108h1v1h-1zM419 108h1v1h-1zM423 108h1v1h-1zM427 108h1v1h-1zM503 108h1v1h-1zM79 109h1v1h-1zM118 109h1v1h-1zM152 109h1v1h-1zM157 109h1v1h-1zM236 109h1v1h-1zM239 109h1v1h-1zM342 109h1v1h-1zM419 109h1v1h-1zM423 109h1v1h-1zM427 109h1v1h-1zM504 109h1v1h-1zM79 110h1v1h-1zM119 110h1v1h-1zM152 110h1v1h-1zM157 110h1v1h-1zM236 110h1v1h-1zM239 110h1v1h-1zM342 110h1v1h-1zM419 110h1v1h-1zM423 110h1v1h-1zM427 110h1v1h-1zM504 110h1v1h-1zM78 111h1v1h-1zM120 111h1v1h-1zM152 111h1v1h-1zM157 111h1v1h-1zM237 111h2v1h-2zM341 111h1v1h-1zM419 111h1v1h-1zM423 111h1v1h-1zM427 111h1v1h-1zM504 111h1v1h-1zM78 112h1v1h-1zM121 112h1v1h-1zM152 112h1v1h-1zM157 112h1v1h-1zM237 112h2v1h-2zM341 112h1v1h-1zM419 112h1v1h-1zM423 112h1v1h-1zM427 112h1v1h-1zM505 112h1v1h-1zM77 113h1v1h-1zM122 113h1v1h-1zM152 113h1v1h-1zM157 113h1v1h-1zM237 113h2v1h-2zM340 113h1v1h-1zM419 113h1v1h-1zM423 113h1v1h-1zM427 113h1v1h-1zM505 113h1v1h-1zM77 114h1v1h-1zM123 114h1v1h-1zM153 114h1v1h-1zM157 114h1v1h-1zM238 114h1v1h-1zM340 114h1v1h-1zM419 114h1v1h-1zM423 114h1v1h-1zM426 114h1v1h-1zM506 114h1v1h-1zM77 115h1v1h-1zM124 115h1v1h-1zM153 115h1v1h-1zM157 115h1v1h-1zM238 115h1v1h-1zM340 115h1v1h-1zM419 115h1v1h-1zM423 115h1v1h-1zM426 115h1v1h-1zM506 115h1v1h-1zM76 116h1v1h-1zM125 116h2v1h-2zM153 116h1v1h-1zM157 116h1v1h-1zM239 116h1v1h-1zM339 116h1v1h-1zM419 116h1v1h-1zM423 116h1v1h-1zM426 116h1v1h-1zM507 116h1v1h-1zM76 117h1v1h-1zM127 117h1v1h-1zM153 117h1v1h-1zM157 117h1v1h-1zM239 117h1v1h-1zM339 117h1v1h-1zM420 117h1v1h-1zM423 117h1v1h-1zM426 117h1v1h-1zM507 117h1v1h-1zM76 118h1v1h-1zM128 118h1v1h-1zM153 118h1v1h-1zM157 118h1v1h-1zM239 118h1v1h-1zM339 118h1v1h-1zM420 118h1v1h-1zM423 118h1v1h-1zM426 118h1v1h-1zM507 118h1v1h-1zM75 119h1v1h-1zM129 119h1v1h-1zM153 119h1v1h-1zM157 119h1v1h-1zM240 119h1v1h-1zM338 119h1v1h-1zM420 119h1v1h-1zM423 119h1v1h-1zM426 119h1v1h-1zM508 119h1v1h-1zM75 120h1v1h-1zM130 120h1v1h-1zM153 120h1v1h-1zM157 120h1v1h-1zM240 120h1v1h-1zM338 120h1v1h-1zM420 120h1v1h-1zM423 120h1v1h-1zM426 120h1v1h-1zM508 120h1v1h-1zM75 121h1v1h-1zM131 121h1v1h-1zM154 121h1v1h-1zM157 121h1v1h-1zM240 121h1v1h-1zM338 121h1v1h-1zM420 121h1v1h-1zM423 121h1v1h-1zM426 121h1v1h-1zM508 121h1v1h-1zM74 122h1v1h-1zM132 122h1v1h-1zM154 122h1v1h-1zM157 122h1v1h-1zM240 122h1v1h-1zM337 122h1v1h-1zM420 122h1v1h-1zM423 122h1v1h-1zM426 122h1v1h-1zM509 122h1v1h-1zM74 123h1v1h-1zM133 123h1v1h-1zM154 123h1v1h-1zM157 123h1v1h-1zM241 123h1v1h-1zM337 123h1v1h-1zM420 123h1v1h-1zM423 123h1v1h-1zM425 123h1v1h-1zM509 123h1v1h-1zM74 124h1v1h-1zM134 124h1v1h-1zM154 124h1v1h-1zM157 124h1v1h-1zM241 124h1v1h-1zM337 124h1v1h-1zM420 124h1v1h-1zM423 124h1v1h-1zM425 124h1v1h-1zM509 124h1v1h-1zM74 125h1v1h-1zM135 125h1v1h-1zM154 125h1v1h-1zM157 125h1v1h-1zM241 125h1v1h-1zM336 125h1v1h-1zM420 125h1v1h-1zM423 125h1v1h-1zM425 125h1v1h-1zM509 125h1v1h-1zM73 126h1v1h-1zM136 126h1v1h-1zM154 126h1v1h-1zM157 126h1v1h-1zM242 126h1v1h-1zM336 126h1v1h-1zM421 126h1v1h-1zM423 126h1v1h-1zM425 126h1v1h-1zM510 126h1v1h-1zM73 127h1v1h-1zM137 127h1v1h-1zM154 127h1v1h-1zM157 127h1v1h-1zM242 127h1v1h-1zM336 127h1v1h-1zM421 127h1v1h-1zM423 127h1v1h-1zM425 127h1v1h-1zM510 127h1v1h-1zM73 128h1v1h-1zM138 128h2v1h-2zM155 128h1v1h-1zM157 128h1v1h-1zM242 128h1v1h-1zM336 128h1v1h-1zM421 128h1v1h-1zM423 128h1v1h-1zM425 128h1v1h-1zM510 128h1v1h-1zM73 129h1v1h-1zM140 129h1v1h-1zM155 129h1v1h-1zM157 129h1v1h-1zM242 129h1v1h-1zM335 129h1v1h-1zM421 129h1v1h-1zM423 129h1v1h-1zM425 129h1v1h-1zM510 129h1v1h-1zM72 130h1v1h-1zM141 130h1v1h-1zM155 130h1v1h-1zM157 130h1v1h-1zM242 130h1v1h-1zM335 130h1v1h-1zM421 130h1v1h-1zM423 130h1v1h-1zM425 130h1v1h-1zM511 130h1v1h-1zM72 131h1v1h-1zM142 131h1v1h-1zM155 131h1v1h-1zM157 131h1v1h-1zM242 131h1v1h-1zM335 131h4v1h-4zM421 131h1v1h-1zM423 131h1v1h-1zM425 131h1v1h-1zM511 131h1v1h-1zM72 132h1v1h-1zM143 132h1v1h-1zM155 132h1v1h-1zM157 132h1v1h-1zM243 132h1v1h-1zM335 132h1v1h-1zM339 132h6v1h-6zM421 132h1v1h-1zM423 132h1v1h-1zM425 132h1v1h-1zM511 132h1v1h-1zM72 133h1v1h-1zM144 133h1v1h-1zM155 133h1v1h-1zM157 133h1v1h-1zM243 133h1v1h-1zM335 133h1v1h-1zM345 133h5v1h-5zM421 133h1v1h-1zM423 133h2v1h-2zM511 133h1v1h-1zM72 134h1v1h-1zM145 134h1v1h-1zM155 134h1v1h-1zM157 134h1v1h-1zM243 134h1v1h-1zM335 134h1v1h-1zM350 134h6v1h-6zM422 134h3v1h-3zM511 134h1v1h-1zM72 135h1v1h-1zM146 135h1v1h-1zM156 135h2v1h-2zM243 135h1v1h-1zM334 135h1v1h-1zM356 135h5v1h-5zM422 135h3v1h-3zM511 135h1v1h-1zM72 136h1v1h-1zM147 136h1v1h-1zM156 136h2v1h-2zM243 136h1v1h-1zM334 136h1v1h-1zM361 136h5v1h-5zM422 136h3v1h-3zM512 136h1v1h-1zM72 137h1v1h-1zM148 137h1v1h-1zM156 137h2v1h-2zM243 137h1v1h-1zM334 137h1v1h-1zM366 137h6v1h-6zM422 137h3v1h-3zM512 137h1v1h-1zM71 138h1v1h-1zM149 138h1v1h-1zM156 138h2v1h-2zM243 138h1v1h-1zM334 138h1v1h-1zM372 138h5v1h-5zM422 138h3v1h-3zM512 138h1v1h-1zM71 139h1v1h-1zM150 139h2v1h-2zM156 139h2v1h-2zM243 139h1v1h-1zM334 139h1v1h-1zM377 139h6v1h-6zM422 139h3v1h-3zM512 139h1v1h-1zM71 140h1v1h-1zM152 140h1v1h-1zM156 140h2v1h-2zM244 140h1v1h-1zM334 140h1v1h-1zM383 140h5v1h-5zM422 140h3v1h-3zM512 140h1v1h-1zM71 141h1v1h-1zM153 141h1v1h-1zM156 141h2v1h-2zM244 141h1v1h-1zM334 141h1v1h-1zM388 141h6v1h-6zM422 141h3v1h-3zM512 141h1v1h-1zM71 142h1v1h-1zM154 142h1v1h-1zM157 142h1v1h-1zM244 142h1v1h-1zM334 142h1v1h-1zM394 142h5v1h-5zM422 142h3v1h-3zM512 142h1v1h-1zM71 143h1v1h-1zM155 143h1v1h-1zM157 143h1v1h-1zM244 143h1v1h-1zM334 143h1v1h-1zM399 143h5v1h-5zM423 143h1v1h-1zM512 143h1v1h-1zM71 144h1v1h-1zM156 144h2v1h-2zM244 144h1v1h-1zM334 144h1v1h-1zM404 144h6v1h-6zM423 144h1v1h-1zM512 144h1v1h-1zM71 145h1v1h-1zM157 145h1v1h-1zM244 145h1v1h-1zM334 145h1v1h-1zM410 145h5v1h-5zM423 145h1v1h-1zM512 145h1v1h-1zM71 146h1v1h-1zM158 146h1v1h-1zM244 146h1v1h-1zM334 146h1v1h-1zM415 146h6v1h-6zM423 146h1v1h-1zM512 146h1v1h-1zM71 147h1v1h-1zM159 147h1v1h-1zM244 147h1v1h-1zM334 147h1v1h-1zM421 147h3v1h-3zM512 147h1v1h-1zM71 148h1v1h-1zM160 148h1v1h-1zM244 148h1v1h-1zM334 148h1v1h-1zM512 148h1v1h-1zM71 149h1v1h-1zM160 149h1v1h-1zM244 149h1v1h-1zM334 149h1v1h-1zM512 149h1v1h-1zM71 150h1v1h-1zM161 150h1v1h-1zM244 150h1v1h-1zM334 150h1v1h-1zM512 150h1v1h-1zM71 151h1v1h-1zM162 151h1v1h-1zM244 151h1v1h-1zM334 151h1v1h-1zM512 151h1v1h-1zM71 152h1v1h-1zM163 152h1v1h-1zM243 152h1v1h-1zM334 152h1v1h-1zM512 152h1v1h-1zM71 153h1v1h-1zM164 153h1v1h-1zM243 153h1v1h-1zM334 153h1v1h-1zM512 153h1v1h-1zM72 154h1v1h-1zM165 154h1v1h-1zM243 154h1v1h-1zM334 154h1v1h-1zM512 154h1v1h-1zM72 155h1v1h-1zM165 155h1v1h-1zM243 155h1v1h-1zM334 155h1v1h-1zM512 155h1v1h-1zM72 156h1v1h-1zM166 156h1v1h-1zM243 156h1v1h-1zM334 156h1v1h-1zM512 156h1v1h-1zM72 157h1v1h-1zM167 157h1v1h-1zM243 157h1v1h-1zM334 157h1v1h-1zM512 157h1v1h-1zM72 158h1v1h-1zM168 158h1v1h-1zM243 158h1v1h-1zM334 158h1v1h-1zM512 158h1v1h-1zM72 159h1v1h-1zM169 159h1v1h-1zM243 159h1v1h-1zM334 159h1v1h-1zM512 159h1v1h-1zM72 160h1v1h-1zM170 160h1v1h-1zM242 160h1v1h-1zM334 160h1v1h-1zM511 160h1v1h-1zM73 161h1v1h-1zM171 161h1v1h-1zM242 161h1v1h-1zM335 161h1v1h-1zM511 161h1v1h-1zM73 162h1v1h-1zM171 162h1v1h-1zM242 162h1v1h-1zM335 162h1v1h-1zM511 162h1v1h-1zM73 163h1v1h-1zM172 163h1v1h-1zM242 163h1v1h-1zM335 163h1v1h-1zM511 163h1v1h-1zM73 164h1v1h-1zM173 164h1v1h-1zM242 164h1v1h-1zM335 164h1v1h-1zM511 164h1v1h-1zM73 165h1v1h-1zM174 165h1v1h-1zM241 165h1v1h-1zM335 165h1v1h-1zM511 165h1v1h-1zM74 166h1v1h-1zM175 166h1v1h-1zM241 166h1v1h-1zM335 166h1v1h-1zM510 166h1v1h-1zM74 167h1v1h-1zM176 167h1v1h-1zM241 167h1v1h-1zM336 167h1v1h-1zM510 167h1v1h-1zM74 168h1v1h-1zM177 168h1v1h-1zM241 168h1v1h-1zM336 168h1v1h-1zM510 168h1v1h-1zM74 169h1v1h-1zM177 169h1v1h-1zM240 169h1v1h-1zM336 169h1v1h-1zM510 169h1v1h-1zM75 170h1v1h-1zM178 170h1v1h-1zM240 170h1v1h-1zM336 170h1v1h-1zM509 170h1v1h-1zM75 171h1v1h-1zM179 171h1v1h-1zM240 171h1v1h-1zM337 171h1v1h-1zM509 171h1v1h-1zM75 172h1v1h-1zM180 172h1v1h-1zM240 172h1v1h-1zM337 172h1v1h-1zM509 172h1v1h-1zM76 173h1v1h-1zM181 173h1v1h-1zM239 173h1v1h-1zM337 173h1v1h-1zM509 173h1v1h-1zM76 174h1v1h-1zM182 174h1v1h-1zM239 174h1v1h-1zM337 174h1v1h-1zM508 174h1v1h-1zM76 175h1v1h-1zM182 175h1v1h-1zM238 175h1v1h-1zM338 175h1v1h-1zM508 175h1v1h-1zM77 176h1v1h-1zM183 176h1v1h-1zM238 176h1v1h-1zM338 176h1v1h-1zM508 176h1v1h-1zM77 177h1v1h-1zM184 177h1v1h-1zM238 177h1v1h-1zM338 177h1v1h-1zM507 177h1v1h-1zM77 178h1v1h-1zM185 178h1v1h-1zM237 178h1v1h-1zM339 178h1v1h-1zM507 178h1v1h-1zM78 179h1v1h-1zM186 179h1v1h-1zM237 179h1v1h-1zM339 179h1v1h-1zM507 179h1v1h-1zM78 180h1v1h-1zM187 180h1v1h-1zM237 180h1v1h-1zM340 180h1v1h-1zM506 180h1v1h-1zM79 181h1v1h-1zM188 181h1v1h-1zM236 181h1v1h-1zM340 181h1v1h-1zM506 181h1v1h-1zM79 182h1v1h-1zM188 182h1v1h-1zM236 182h1v1h-1zM340 182h1v1h-1zM505 182h1v1h-1zM80 183h1v1h-1zM189 183h1v1h-1zM235 183h1v1h-1zM341 183h1v1h-1zM505 183h1v1h-1zM80 184h1v1h-1zM190 184h1v1h-1zM235 184h1v1h-1zM341 184h1v1h-1zM505 184h1v1h-1zM81 185h1v1h-1zM191 185h1v1h-1zM234 185h1v1h-1zM342 185h1v1h-1zM504 185h1v1h-1zM81 186h1v1h-1zM192 186h1v1h-1zM234 186h1v1h-1zM342 186h1v1h-1zM504 186h1v1h-1zM82 187h1v1h-1zM193 187h1v1h-1zM233 187h1v1h-1zM343 187h1v1h-1zM503 187h1v1h-1zM82 188h1v1h-1zM193 188h1v1h-1zM233 188h1v1h-1zM343 188h1v1h-1zM503 188h1v1h-1zM83 189h1v1h-1zM194 189h1v1h-1zM232 189h1v1h-1zM344 189h1v1h-1zM502 189h1v1h-1zM83 190h1v1h-1zM195 190h1v1h-1zM231 190h1v1h-1zM344 190h1v1h-1zM502 190h1v1h-1zM84 191h1v1h-1zM196 191h1v1h-1zM231 191h1v1h-1zM345 191h1v1h-1zM501 191h1v1h-1zM85 192h1v1h-1zM197 192h1v1h-1zM230 192h1v1h-1zM345 192h1v1h-1zM500 192h1v1h-1zM85 193h1v1h-1zM198 193h1v1h-1zM229 193h1v1h-1zM346 193h1v1h-1zM500 193h1v1h-1zM86 194h1v1h-1zM199 194h1v1h-1zM229 194h1v1h-1zM346 194h1v1h-1zM499 194h1v1h-1zM87 195h1v1h-1zM199 195h1v1h-1zM228 195h1v1h-1zM347 195h1v1h-1zM499 195h1v1h-1zM87 196h1v1h-1zM200 196h1v1h-1zM227 196h1v1h-1zM348 196h1v1h-1zM498 196h1v1h-1zM88 197h1v1h-1zM201 197h1v1h-1zM227 197h1v1h-1zM348 197h1v1h-1zM497 197h1v1h-1zM89 198h1v1h-1zM202 198h1v1h-1zM226 198h1v1h-1zM349 198h1v1h-1zM497 198h1v1h-1zM90 199h1v1h-1zM203 199h1v1h-1zM225 199h1v1h-1zM350 199h1v1h-1zM496 199h1v1h-1zM90 200h1v1h-1zM204 200h1v1h-1zM224 200h1v1h-1zM350 200h1v1h-1zM495 200h1v1h-1zM91 201h1v1h-1zM205 201h1v1h-1zM224 201h1v1h-1zM351 201h1v1h-1zM495 201h1v1h-1zM92 202h1v1h-1zM205 202h1v1h-1zM223 202h1v1h-1zM352 202h1v1h-1zM494 202h1v1h-1zM93 203h1v1h-1zM206 203h1v1h-1zM222 203h1v1h-1zM353 203h1v1h-1zM493 203h1v1h-1zM94 204h1v1h-1zM207 204h1v1h-1zM221 204h1v1h-1zM354 204h1v1h-1zM492 204h1v1h-1zM95 205h1v1h-1zM208 205h1v1h-1zM220 205h1v1h-1zM354 205h1v1h-1zM491 205h1v1h-1zM95 206h2v1h-2zM209 206h1v1h-1zM219 206h1v1h-1zM355 206h1v1h-1zM491 206h1v1h-1zM95 207h1v1h-1zM97 207h1v1h-1zM210 207h1v1h-1zM218 207h1v1h-1zM356 207h1v1h-1zM490 207h1v1h-1zM95 208h1v1h-1zM98 208h1v1h-1zM210 208h1v1h-1zM217 208h1v1h-1zM357 208h1v1h-1zM489 208h1v1h-1zM94 209h1v1h-1zM99 209h1v1h-1zM211 209h1v1h-1zM216 209h1v1h-1zM358 209h1v1h-1zM488 209h1v1h-1zM94 210h1v1h-1zM100 210h1v1h-1zM212 210h1v1h-1zM215 210h1v1h-1zM359 210h1v1h-1zM487 210h1v1h-1zM94 211h1v1h-1zM101 211h1v1h-1zM213 211h2v1h-2zM360 211h1v1h-1zM486 211h1v1h-1zM94 212h1v1h-1zM102 212h1v1h-1zM212 212h2v1h-2zM361 212h1v1h-1zM485 212h1v1h-1zM94 213h1v1h-1zM103 213h2v1h-2zM211 213h1v1h-1zM362 213h1v1h-1zM484 213h1v1h-1zM89 214h6v1h-6zM105 214h1v1h-1zM210 214h1v1h-1zM363 214h1v1h-1zM483 214h1v1h-1zM106 215h1v1h-1zM208 215h2v1h-2zM364 215h1v1h-1zM481 215h2v1h-2zM107 216h2v1h-2zM207 216h1v1h-1zM365 216h2v1h-2zM480 216h1v1h-1zM109 217h1v1h-1zM205 217h2v1h-2zM367 217h1v1h-1zM479 217h1v1h-1zM110 218h2v1h-2zM204 218h1v1h-1zM368 218h1v1h-1zM478 218h1v1h-1zM112 219h2v1h-2zM202 219h2v1h-2zM369 219h1v1h-1zM476 219h2v1h-2zM114 220h1v1h-1zM201 220h1v1h-1zM370 220h2v1h-2zM475 220h1v1h-1zM477 220h1v1h-1zM115 221h2v1h-2zM199 221h2v1h-2zM372 221h1v1h-1zM473 221h2v1h-2zM477 221h1v1h-1zM117 222h2v1h-2zM197 222h2v1h-2zM373 222h2v1h-2zM472 222h1v1h-1zM477 222h1v1h-1zM119 223h2v1h-2zM195 223h2v1h-2zM375 223h1v1h-1zM470 223h2v1h-2zM477 223h1v1h-1zM121 224h2v1h-2zM193 224h2v1h-2zM376 224h2v1h-2zM469 224h1v1h-1zM477 224h1v1h-1zM123 225h3v1h-3zM190 225h3v1h-3zM378 225h2v1h-2zM467 225h2v1h-2zM477 225h1v1h-1zM126 226h2v1h-2zM187 226h3v1h-3zM380 226h2v1h-2zM465 226h2v1h-2zM477 226h1v1h-1zM128 227h3v1h-3zM185 227h2v1h-2zM382 227h2v1h-2zM463 227h2v1h-2zM477 227h1v1h-1zM131 228h4v1h-4zM181 228h4v1h-4zM384 228h2v1h-2zM461 228h2v1h-2zM477 228h1v1h-1zM135 229h3v1h-3zM177 229h4v1h-4zM386 229h2v1h-2zM459 229h2v1h-2zM477 229h1v1h-1zM138 230h6v1h-6zM172 230h5v1h-5zM388 230h3v1h-3zM456 230h3v1h-3zM477 230h6v1h-6zM144 231h8v1h-8zM164 231h8v1h-8zM391 231h2v1h-2zM454 231h2v1h-2zM152 232h12v1h-12zM393 232h3v1h-3zM451 232h3v1h-3zM396 233h4v1h-4zM447 233h4v1h-4zM400 234h4v1h-4zM443 234h4v1h-4zM404 235h5v1h-5zM438 235h5v1h-5zM409 236h8v1h-8zM429 236h9v1h-9zM417 237h12v1h-12z"/><rect x="42.5" y="294.5" width="497" height="39" fill="none" stroke="#000"/><rect x="74.5" y="301.5" width="10" height="10" fill="url(#sI)" stroke="#000"/><rect x="74.5" y="318.5" width="10" height="10" fill="url(#gI)" stroke="#000"/><rect x="322.5" y="301.5" width="10" height="10" fill="url(#dI)" stroke="#000"/><rect x="322.5" y="318.5" width="10" height="10" fill="#ffff00" stroke="#000"/></g>
<g style="will-change:transform"><text transform="matrix(0.8,0,0,1,69.0,64.0)" font-size="16" letter-spacing="3.125">11%</text><text transform="matrix(0.8,0,0,1,169.0,44.0)" font-size="16" letter-spacing="2.5">2%</text><text transform="matrix(0.8,0,0,1,249.0,101.0)" font-size="16" letter-spacing="3.125">38%</text><text transform="matrix(0.8,0,0,1,53.0,218.0)" font-size="16" letter-spacing="2.5">49%</text><text transform="matrix(0.85,0,0,1,377.0,46.0)" font-size="13.8" letter-spacing="3.529">2%</text><text transform="matrix(0.85,0,0,1,444.0,45.0)" font-size="13.8" letter-spacing="3.529">2%</text><text transform="matrix(0.85,0,0,1,323.0,70.0)" font-size="13.8" letter-spacing="2.941">20%</text><text transform="matrix(0.85,0,0,1,484.0,233.0)" font-size="13.8" letter-spacing="2.941">76%</text><text transform="matrix(0.78,0,0,1,133.0,263.0)" font-size="17.6" letter-spacing="2.564">VOC</text><text transform="matrix(0.8,0,0,1,131.0,284.0)" font-size="17.6" letter-spacing="0.25">(1277)</text><text transform="matrix(0.78,0,0,1,410.0,263.0)" font-size="17.6" letter-spacing="1.282">CO</text><text transform="matrix(0.8,0,0,1,403.0,285.0)" font-size="17.6" letter-spacing="0.5">(7573)</text><text transform="matrix(0.75,0,0,1,89.0,312.0)" font-size="13.8" letter-spacing="2.154">Stationary and Area Sources</text><text transform="matrix(0.75,0,0,1,89.0,329.0)" font-size="13.8" letter-spacing="1.939">Other Mobile</text><text transform="matrix(0.75,0,0,1,337.0,312.0)" font-size="13.8" letter-spacing="2.222">On-Road Vehicles</text><text transform="matrix(0.75,0,0,1,337.0,329.0)" font-size="13.8" letter-spacing="2.359">On-Road Diesel</text><text x="30.0" y="362.0" font-size="15.8" textLength="520.39" lengthAdjust="spacingAndGlyphs" class="serif" xml:space="preserve">Figure 1.  1993 VOC and Carbon Monoxide Emissions Inventory for the South</text><text x="129.0" y="381.0" font-size="15.8" textLength="323.33" lengthAdjust="spacingAndGlyphs" class="serif">Coast Air Basin (tons/day) from the 1997 AQMP</text></g>
</svg>
</body></html>
